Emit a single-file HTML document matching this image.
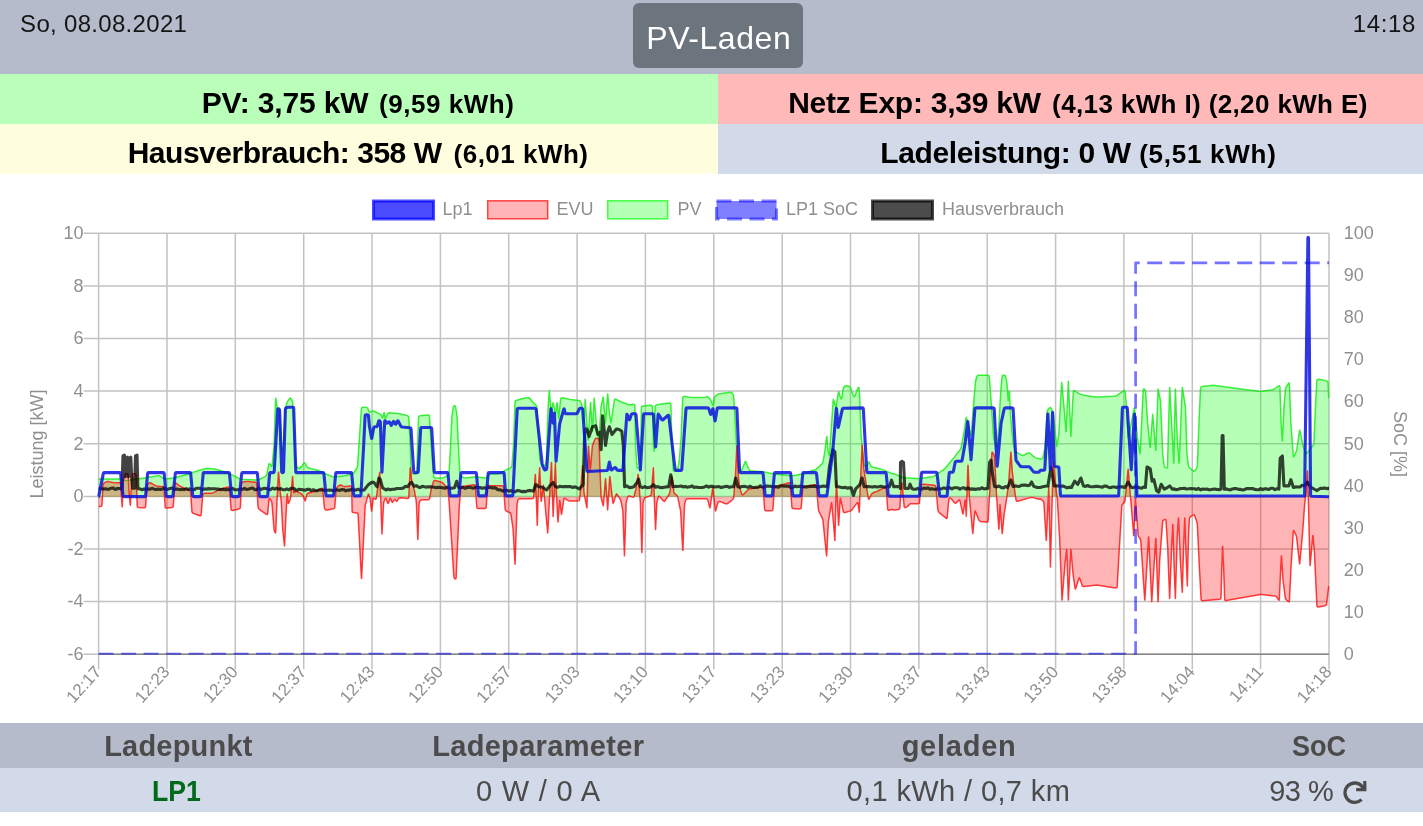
<!DOCTYPE html>
<html lang="de"><head><meta charset="utf-8"><title>openWB Display</title>
<style>
html,body{margin:0;padding:0;background:#fff;}
body{width:1423px;height:826px;overflow:hidden;position:relative;font-family:"Liberation Sans",Arial,sans-serif;}
.bg{position:absolute;}
.t{position:absolute;white-space:nowrap;line-height:1;}
.chart{position:absolute;left:0;top:174px;}
.ref{position:absolute;left:1343.2px;top:780.8px;}
</style></head><body>
<div class="bg" style="left:0;top:0;width:1423px;height:73.5px;background:#b5bbcb"></div>
<div class="bg" style="left:633px;top:3px;width:170px;height:65px;border-radius:6px;background:#6c757d"></div>
<div class="bg" style="left:0;top:73.5px;width:718px;height:50px;background:#b9ffba"></div>
<div class="bg" style="left:718px;top:73.5px;width:705px;height:50px;background:#ffb9b9"></div>
<div class="bg" style="left:0;top:123.5px;width:718px;height:50.5px;background:#fefedf"></div>
<div class="bg" style="left:718px;top:123.5px;width:705px;height:50.5px;background:#d2d9e8"></div>
<div class="bg" style="left:0;top:723px;width:1423px;height:44.5px;background:#b5bbcb"></div>
<div class="bg" style="left:0;top:767.5px;width:1423px;height:44.5px;background:#d2d9e8"></div>
<svg class="chart" width="1423" height="549" viewBox="0 0 1423 549" font-family="Liberation Sans, Arial, sans-serif" font-size="18" fill="#8f8f8f">
<g stroke="#c2c2c2" stroke-width="1.5">
<line x1="98.6" y1="59.3" x2="98.6" y2="495.2"/>
<line x1="167.0" y1="59.3" x2="167.0" y2="495.2"/>
<line x1="235.3" y1="59.3" x2="235.3" y2="495.2"/>
<line x1="303.7" y1="59.3" x2="303.7" y2="495.2"/>
<line x1="372.0" y1="59.3" x2="372.0" y2="495.2"/>
<line x1="440.4" y1="59.3" x2="440.4" y2="495.2"/>
<line x1="508.7" y1="59.3" x2="508.7" y2="495.2"/>
<line x1="577.1" y1="59.3" x2="577.1" y2="495.2"/>
<line x1="645.4" y1="59.3" x2="645.4" y2="495.2"/>
<line x1="713.8" y1="59.3" x2="713.8" y2="495.2"/>
<line x1="782.2" y1="59.3" x2="782.2" y2="495.2"/>
<line x1="850.5" y1="59.3" x2="850.5" y2="495.2"/>
<line x1="918.9" y1="59.3" x2="918.9" y2="495.2"/>
<line x1="987.2" y1="59.3" x2="987.2" y2="495.2"/>
<line x1="1055.6" y1="59.3" x2="1055.6" y2="495.2"/>
<line x1="1123.9" y1="59.3" x2="1123.9" y2="495.2"/>
<line x1="1192.3" y1="59.3" x2="1192.3" y2="495.2"/>
<line x1="1260.6" y1="59.3" x2="1260.6" y2="495.2"/>
<line x1="1329.0" y1="59.3" x2="1329.0" y2="495.2"/>
<line x1="83.6" y1="59.3" x2="1329.0" y2="59.3"/>
<line x1="83.6" y1="111.9" x2="1329.0" y2="111.9"/>
<line x1="83.6" y1="164.5" x2="1329.0" y2="164.5"/>
<line x1="83.6" y1="217.1" x2="1329.0" y2="217.1"/>
<line x1="83.6" y1="269.8" x2="1329.0" y2="269.8"/>
<line x1="83.6" y1="322.4" x2="1329.0" y2="322.4"/>
<line x1="83.6" y1="375.0" x2="1329.0" y2="375.0"/>
<line x1="83.6" y1="427.6" x2="1329.0" y2="427.6"/>
<line x1="83.6" y1="480.2" x2="1329.0" y2="480.2"/>
</g>
<line x1="98.6" y1="480.2" x2="1329.0" y2="480.2" stroke="#858585" stroke-width="1.6"/>
<g class="legend" font-size="18">
<rect x="373.5" y="27" width="60" height="18" fill="rgba(0,0,255,0.7)" stroke="rgba(0,0,255,0.7)" stroke-width="3"/>
<text x="442.5" y="41">Lp1</text>
<rect x="487.7" y="26.8" width="60" height="18" fill="rgba(255,10,13,0.3)" stroke="rgba(255,0,0,0.7)" stroke-width="1.5"/>
<text x="556.5" y="41">EVU</text>
<rect x="607.7" y="26.8" width="60" height="18" fill="rgba(10,255,13,0.3)" stroke="rgba(0,255,0,0.7)" stroke-width="1.5"/>
<text x="677.5" y="41">PV</text>
<rect x="716.5" y="27" width="60" height="18" fill="rgba(0,0,255,0.5)" stroke="rgba(0,0,255,0.5)" stroke-width="3" stroke-dasharray="15 7.5"/>
<text x="786" y="41">LP1 SoC</text>
<rect x="872.5" y="27" width="60" height="18" fill="rgba(0,0,0,0.7)" stroke="rgba(0,0,0,0.7)" stroke-width="3"/>
<text x="942" y="41">Hausverbrauch</text>
</g>
<g class="ylab">
<text x="83.5" y="65.1" text-anchor="end">10</text><text x="83.5" y="117.7" text-anchor="end">8</text><text x="83.5" y="170.3" text-anchor="end">6</text><text x="83.5" y="222.9" text-anchor="end">4</text><text x="83.5" y="275.5" text-anchor="end">2</text><text x="83.5" y="328.1" text-anchor="end">0</text><text x="83.5" y="380.7" text-anchor="end">-2</text><text x="83.5" y="433.3" text-anchor="end">-4</text><text x="83.5" y="486.0" text-anchor="end">-6</text><text x="1343.8" y="65.1" text-anchor="start">100</text><text x="1343.8" y="107.1" text-anchor="start">90</text><text x="1343.8" y="149.2" text-anchor="start">80</text><text x="1343.8" y="191.3" text-anchor="start">70</text><text x="1343.8" y="233.4" text-anchor="start">60</text><text x="1343.8" y="275.5" text-anchor="start">50</text><text x="1343.8" y="317.6" text-anchor="start">40</text><text x="1343.8" y="359.7" text-anchor="start">30</text><text x="1343.8" y="401.8" text-anchor="start">20</text><text x="1343.8" y="443.9" text-anchor="start">10</text><text x="1343.8" y="486.0" text-anchor="start">0</text>
</g>
<g class="xlab" font-size="17">
<text transform="translate(98.9,495.5) rotate(-48)" text-anchor="end" dominant-baseline="middle">12:17</text><text transform="translate(167.3,495.5) rotate(-48)" text-anchor="end" dominant-baseline="middle">12:23</text><text transform="translate(235.6,495.5) rotate(-48)" text-anchor="end" dominant-baseline="middle">12:30</text><text transform="translate(304.0,495.5) rotate(-48)" text-anchor="end" dominant-baseline="middle">12:37</text><text transform="translate(372.3,495.5) rotate(-48)" text-anchor="end" dominant-baseline="middle">12:43</text><text transform="translate(440.7,495.5) rotate(-48)" text-anchor="end" dominant-baseline="middle">12:50</text><text transform="translate(509.0,495.5) rotate(-48)" text-anchor="end" dominant-baseline="middle">12:57</text><text transform="translate(577.4,495.5) rotate(-48)" text-anchor="end" dominant-baseline="middle">13:03</text><text transform="translate(645.7,495.5) rotate(-48)" text-anchor="end" dominant-baseline="middle">13:10</text><text transform="translate(714.1,495.5) rotate(-48)" text-anchor="end" dominant-baseline="middle">13:17</text><text transform="translate(782.5,495.5) rotate(-48)" text-anchor="end" dominant-baseline="middle">13:23</text><text transform="translate(850.8,495.5) rotate(-48)" text-anchor="end" dominant-baseline="middle">13:30</text><text transform="translate(919.2,495.5) rotate(-48)" text-anchor="end" dominant-baseline="middle">13:37</text><text transform="translate(987.5,495.5) rotate(-48)" text-anchor="end" dominant-baseline="middle">13:43</text><text transform="translate(1055.9,495.5) rotate(-48)" text-anchor="end" dominant-baseline="middle">13:50</text><text transform="translate(1124.2,495.5) rotate(-48)" text-anchor="end" dominant-baseline="middle">13:58</text><text transform="translate(1192.6,495.5) rotate(-48)" text-anchor="end" dominant-baseline="middle">14:04</text><text transform="translate(1260.9,495.5) rotate(-48)" text-anchor="end" dominant-baseline="middle">14:11</text><text transform="translate(1329.3,495.5) rotate(-48)" text-anchor="end" dominant-baseline="middle">14:18</text>
</g>
<text transform="translate(43,270) rotate(-90)" text-anchor="middle">Leistung [kW]</text>
<text transform="translate(1394,270) rotate(90)" text-anchor="middle">SoC [%]</text>
<clipPath id="ca"><rect x="97.1" y="57.8" width="1233.4" height="422.7"/></clipPath>
<g fill="none" stroke-linejoin="round" stroke-linecap="butt" clip-path="url(#ca)">
<path d="M98.6,305.1 L98.7,305.1 L99.1,305.1 L100.3,305.1 L121.1,305.1 L122.5,305.3 L123.7,305.8 L123.9,306.0 L125.0,306.4 L126.4,306.4 L142.9,304.3 L144.5,304.0 L146.0,303.8 L158.1,301.7 L159.6,301.8 L160.9,302.5 L162.9,304.1 L164.2,304.8 L165.7,304.9 L171.2,304.2 L172.8,304.0 L174.3,303.7 L184.3,301.2 L185.9,300.7 L187.4,300.3 L197.4,296.9 L198.9,296.4 L200.5,296.0 L206.1,294.6 L207.7,294.4 L209.2,294.4 L214.8,295.1 L216.3,295.4 L217.9,295.8 L227.9,299.2 L229.4,299.7 L230.9,300.4 L238.9,304.4 L240.4,305.0 L241.9,305.2 L256.2,306.1 L257.7,306.0 L259.2,305.5 L265.0,302.6 L266.2,301.6 L266.8,300.3 L268.8,290.4 L269.2,289.5 L270.0,290.1 L271.0,291.8 L271.7,292.4 L272.1,291.6 L273.9,273.0 L274.1,271.4 L274.1,269.8 L275.6,225.0 L275.7,224.2 L275.9,225.0 L277.1,232.7 L277.5,234.1 L278.3,234.8 L278.6,234.9 L279.3,235.7 L279.6,237.0 L281.6,276.3 L281.8,277.1 L282.1,276.3 L283.1,272.9 L283.4,271.3 L283.5,269.8 L285.3,235.9 L285.5,234.3 L285.8,232.8 L286.8,229.3 L287.3,227.9 L288.1,226.5 L289.5,224.7 L290.4,224.1 L291.2,224.9 L291.9,226.4 L292.5,227.8 L292.7,229.4 L294.7,269.8 L294.8,271.4 L294.9,273.0 L295.8,290.5 L296.2,291.9 L297.1,293.0 L298.8,294.3 L299.7,294.7 L300.2,293.9 L300.2,293.5 L300.4,292.7 L300.6,293.0 L300.6,293.3 L301.0,293.6 L301.6,292.8 L302.4,291.3 L303.1,290.1 L303.9,289.2 L304.0,289.0 L304.8,288.9 L305.5,289.8 L306.3,291.7 L307.1,292.9 L308.2,293.6 L308.4,293.7 L309.7,294.2 L311.2,294.6 L316.8,296.0 L318.3,296.5 L319.8,297.1 L323.4,299.0 L324.9,299.6 L326.4,300.2 L332.1,302.4 L333.6,302.8 L335.2,302.8 L342.9,302.0 L344.5,301.8 L346.0,301.5 L351.6,300.1 L353.0,299.4 L354.1,298.4 L356.7,294.5 L357.3,293.1 L357.6,291.5 L361.4,234.8 L361.8,233.6 L363.1,233.2 L365.7,233.2 L367.1,233.6 L367.9,234.7 L368.9,237.2 L369.7,238.1 L370.9,237.8 L371.5,237.4 L372.8,236.9 L374.2,237.2 L375.7,238.0 L377.1,238.7 L378.6,239.4 L380.1,240.1 L381.3,241.1 L381.9,242.4 L382.2,243.2 L382.6,244.0 L382.9,243.2 L383.8,239.2 L384.1,238.4 L384.3,239.2 L385.0,243.6 L385.3,244.5 L385.8,243.7 L387.4,240.1 L388.3,239.1 L389.6,238.8 L397.3,239.6 L398.9,239.8 L400.5,240.1 L407.2,241.6 L408.4,242.3 L408.8,243.5 L410.2,269.8 L410.3,271.4 L410.3,273.0 L411.1,298.1 L411.5,299.3 L412.7,299.7 L415.2,299.7 L416.4,299.3 L416.8,298.1 L417.6,273.0 L417.7,271.4 L417.7,269.8 L418.5,243.5 L418.9,242.3 L420.1,241.8 L427.8,241.0 L429.1,241.3 L429.5,242.5 L431.1,269.8 L431.2,271.4 L431.3,273.0 L433.7,302.4 L434.2,303.6 L435.4,304.0 L440.9,304.0 L442.5,303.9 L444.0,303.4 L445.8,302.5 L447.1,301.8 L448.1,300.9 L448.3,300.7 L448.9,299.5 L449.1,298.1 L450.5,273.0 L450.6,271.4 L450.6,269.8 L451.8,244.6 L451.9,243.0 L452.1,241.5 L453.2,234.2 L453.5,232.8 L453.9,232.0 L454.0,231.9 L454.5,231.6 L455.0,231.9 L455.1,232.0 L455.5,232.8 L455.8,234.2 L456.9,241.5 L457.1,243.0 L457.2,244.6 L458.3,269.8 L458.4,271.4 L458.5,273.0 L459.9,300.3 L460.3,301.6 L461.4,302.6 L462.9,303.3 L464.3,303.8 L465.9,303.9 L473.6,303.1 L475.2,303.0 L476.8,303.1 L484.5,303.9 L485.9,303.7 L487.1,302.8 L488.9,300.9 L490.1,300.0 L491.6,299.7 L497.1,299.7 L498.7,299.5 L500.1,299.0 L503.8,297.1 L505.3,296.4 L506.7,295.7 L510.4,293.9 L511.5,292.9 L511.9,291.6 L513.4,273.0 L513.5,271.4 L513.6,269.8 L515.0,228.3 L515.4,227.0 L516.6,226.3 L521.1,225.0 L522.7,224.6 L524.3,224.3 L527.6,223.7 L529.1,223.8 L530.2,224.7 L531.5,226.5 L532.5,227.7 L533.6,228.9 L535.7,231.0 L536.6,232.3 L536.9,233.7 L538.3,258.9 L538.4,260.5 L538.5,262.1 L539.8,285.0 L540.1,286.5 L540.8,288.0 L542.5,290.7 L543.5,291.5 L544.6,291.1 L544.9,290.9 L545.9,289.7 L546.3,288.3 L547.2,262.1 L547.3,260.5 L547.3,258.9 L548.1,233.7 L548.2,232.1 L548.3,230.5 L549.2,217.4 L549.3,216.6 L549.4,217.4 L550.9,237.1 L551.1,237.9 L551.3,237.1 L552.9,229.4 L553.2,228.6 L553.4,229.4 L555.1,239.3 L555.3,240.1 L555.6,239.3 L556.9,229.4 L557.1,228.6 L557.2,229.4 L558.5,243.6 L558.6,244.4 L558.8,243.6 L560.6,225.0 L561.2,223.9 L562.4,223.8 L569.0,225.3 L570.6,225.6 L572.2,225.8 L578.8,226.5 L580.1,227.0 L580.9,228.2 L582.2,232.8 L582.5,234.3 L582.8,235.9 L584.0,248.0 L584.1,248.8 L584.2,248.0 L585.1,226.1 L585.2,225.3 L585.3,226.1 L586.8,248.0 L586.9,249.6 L587.0,251.2 L587.9,265.4 L588.0,266.2 L588.1,265.4 L590.5,229.4 L590.6,228.6 L590.7,229.4 L592.3,256.7 L592.4,257.5 L592.5,256.7 L594.1,225.0 L594.2,224.2 L594.3,225.0 L596.6,252.3 L596.8,253.9 L597.0,255.5 L598.7,265.4 L598.9,266.2 L599.0,265.4 L601.0,233.7 L601.2,232.2 L601.5,230.6 L602.9,223.9 L603.2,223.1 L603.4,223.9 L605.3,248.0 L605.5,248.8 L605.6,248.0 L607.5,220.7 L607.7,219.9 L607.8,220.7 L609.2,237.1 L609.4,238.7 L609.6,240.3 L610.7,248.0 L610.9,248.8 L611.1,248.0 L614.4,226.1 L614.9,225.1 L616.0,225.3 L619.3,227.0 L620.7,227.7 L622.2,228.3 L627.9,230.5 L629.5,230.8 L631.0,230.7 L633.3,230.3 L634.5,230.4 L634.9,231.6 L635.5,269.8 L635.6,271.4 L635.6,273.0 L637.0,292.6 L637.4,293.8 L638.5,294.2 L638.9,294.2 L640.0,293.8 L640.4,292.6 L641.4,233.7 L641.8,232.5 L643.0,232.0 L650.7,231.2 L651.9,231.5 L652.4,232.7 L653.4,269.8 L653.4,271.4 L653.6,272.9 L654.1,276.3 L654.2,277.1 L654.3,276.3 L655.1,232.7 L655.5,231.4 L656.7,230.8 L669.2,229.1 L670.4,229.3 L670.9,230.5 L671.9,269.8 L671.9,271.4 L672.0,273.0 L673.3,295.9 L673.8,296.9 L674.8,296.7 L676.0,296.1 L677.1,295.1 L677.8,293.8 L678.7,290.3 L679.0,288.8 L679.2,287.2 L681.2,262.1 L681.3,260.5 L681.3,258.9 L682.7,223.9 L683.2,222.8 L684.3,222.4 L684.6,222.5 L686.1,222.6 L687.6,222.9 L688.4,223.1 L690.0,223.3 L691.6,223.4 L703.7,223.4 L705.1,223.3 L706.2,222.9 L706.4,222.8 L707.5,222.7 L708.6,223.5 L709.6,224.5 L710.5,225.7 L711.2,227.1 L712.4,230.6 L712.8,231.4 L713.2,230.6 L714.1,225.0 L714.6,223.5 L715.4,222.2 L716.2,221.4 L717.4,220.4 L718.8,219.9 L729.8,218.2 L731.2,218.4 L732.3,219.3 L732.7,219.9 L733.4,221.3 L733.7,222.8 L735.2,248.0 L735.3,249.6 L735.4,251.2 L736.8,276.3 L736.9,277.9 L737.1,279.5 L738.8,291.6 L739.1,293.1 L739.7,294.6 L740.5,296.1 L741.2,296.8 L741.8,296.0 L742.8,293.5 L743.4,292.1 L744.0,290.6 L745.0,288.1 L745.5,287.4 L746.1,288.1 L747.2,291.6 L747.8,293.1 L748.5,294.5 L749.1,295.7 L750.1,296.7 L751.5,297.1 L760.3,297.4 L761.9,297.6 L763.5,297.8 L771.2,299.4 L772.8,299.6 L774.4,299.9 L790.8,301.7 L792.4,301.7 L794.0,301.5 L801.7,300.0 L803.3,299.6 L804.8,299.2 L814.8,295.8 L816.3,295.2 L817.5,294.2 L821.8,289.9 L822.7,288.7 L823.2,287.2 L824.8,277.3 L825.1,275.7 L825.3,274.1 L826.6,263.1 L826.8,262.4 L826.9,263.2 L828.0,276.3 L828.2,277.9 L828.6,279.4 L829.0,280.7 L829.3,281.5 L829.5,280.7 L831.5,251.2 L831.6,249.6 L831.7,248.0 L833.2,226.1 L833.4,225.3 L833.8,226.1 L834.4,228.4 L834.9,230.0 L835.3,231.5 L835.6,232.8 L835.9,233.5 L836.2,232.7 L837.0,227.2 L837.3,225.6 L837.5,224.0 L838.3,218.5 L838.6,217.7 L839.0,218.4 L839.9,221.9 L840.3,223.3 L840.8,224.4 L840.9,224.6 L841.4,225.0 L841.7,224.0 L842.9,216.3 L843.3,214.7 L843.8,213.3 L844.0,212.9 L844.9,211.9 L846.3,211.8 L848.6,212.2 L849.9,212.8 L850.6,214.1 L851.8,217.6 L852.4,219.1 L853.0,220.5 L853.8,222.0 L854.4,222.7 L855.0,221.9 L856.2,218.4 L856.7,216.9 L857.4,215.5 L858.1,214.0 L858.7,213.3 L859.0,214.1 L859.3,217.5 L859.5,219.1 L859.6,220.7 L861.0,258.9 L861.1,260.5 L861.2,262.1 L864.1,290.5 L864.5,291.8 L865.5,292.5 L865.7,292.7 L866.7,292.6 L867.3,291.6 L868.2,288.6 L868.7,287.8 L869.3,288.5 L870.2,290.6 L870.9,291.8 L871.8,292.5 L872.0,292.7 L873.1,293.1 L874.6,293.5 L880.2,294.9 L881.7,295.4 L883.2,295.9 L891.1,299.1 L892.4,299.5 L893.4,299.7 L893.6,299.7 L894.5,299.9 L895.8,300.4 L901.6,303.0 L903.1,303.5 L904.7,303.8 L916.7,304.6 L918.3,304.7 L919.9,304.5 L932.0,302.8 L933.5,302.4 L934.9,301.6 L943.2,295.9 L944.4,294.9 L945.5,293.7 L950.0,288.5 L951.0,287.3 L952.0,286.1 L954.4,283.1 L955.3,281.9 L956.3,280.6 L957.7,278.8 L958.6,277.6 L959.6,276.5 L959.8,276.3 L960.6,275.2 L961.1,273.8 L962.2,268.2 L962.5,266.6 L962.8,265.0 L963.8,259.5 L964.1,257.9 L964.3,256.3 L966.0,244.2 L966.3,243.4 L966.6,244.2 L967.0,245.4 L967.3,247.0 L967.7,248.6 L968.0,249.8 L968.4,251.4 L968.8,252.9 L970.7,260.7 L971.0,261.5 L971.2,260.7 L972.7,242.1 L972.8,240.5 L972.9,238.9 L973.7,229.0 L973.9,227.4 L974.0,225.8 L975.3,209.4 L975.5,207.8 L975.8,206.2 L976.7,202.8 L977.4,201.6 L978.7,201.3 L987.5,201.3 L988.8,201.6 L989.3,202.8 L990.1,212.7 L990.2,214.3 L990.3,215.9 L991.2,228.0 L991.3,229.6 L991.4,231.2 L993.4,260.7 L993.5,262.2 L993.8,263.8 L995.4,271.6 L995.8,272.8 L996.4,273.1 L996.5,273.1 L997.0,272.7 L997.3,271.6 L998.8,253.0 L998.9,251.4 L999.0,249.8 L1000.6,220.3 L1000.7,218.7 L1000.8,217.1 L1002.1,202.8 L1002.5,201.6 L1003.7,201.3 L1004.0,201.3 L1005.2,201.6 L1005.7,202.8 L1006.7,208.4 L1007.0,210.0 L1007.1,211.6 L1008.2,225.8 L1008.3,226.6 L1008.5,225.8 L1009.2,218.1 L1009.4,217.3 L1009.5,218.1 L1010.4,238.9 L1010.5,240.5 L1010.6,242.1 L1012.9,267.2 L1013.2,268.8 L1013.5,270.3 L1014.9,276.0 L1015.5,277.3 L1016.7,278.3 L1021.5,281.1 L1022.9,281.4 L1024.2,281.0 L1024.8,280.6 L1026.2,279.8 L1027.6,279.2 L1028.0,279.1 L1029.3,279.0 L1030.6,279.7 L1031.6,280.7 L1032.8,281.8 L1034.0,282.7 L1034.6,283.2 L1036.0,283.9 L1037.5,284.3 L1040.9,284.9 L1042.2,284.7 L1042.8,283.6 L1044.8,274.7 L1045.1,273.1 L1045.2,271.5 L1047.2,237.7 L1047.6,236.2 L1048.5,235.0 L1049.6,233.9 L1050.6,233.5 L1051.3,234.4 L1052.9,239.0 L1053.3,240.5 L1053.6,242.1 L1056.5,271.6 L1056.7,272.4 L1056.9,271.6 L1058.6,261.7 L1058.8,260.1 L1058.9,258.5 L1061.6,209.4 L1061.7,208.6 L1061.8,209.4 L1064.4,237.9 L1064.5,239.5 L1064.7,241.1 L1066.0,256.8 L1066.1,257.6 L1066.2,256.8 L1068.3,208.1 L1068.3,207.3 L1068.4,208.1 L1070.8,261.5 L1070.9,262.3 L1070.9,261.5 L1073.3,217.5 L1073.7,216.5 L1074.7,216.8 L1079.6,219.8 L1081.0,220.5 L1082.5,220.9 L1095.1,222.9 L1096.7,223.1 L1098.3,223.1 L1113.9,222.3 L1115.5,222.0 L1116.9,221.3 L1123.7,216.8 L1124.7,216.5 L1125.1,217.5 L1126.4,231.6 L1126.5,233.2 L1126.6,234.8 L1128.1,263.1 L1128.2,263.9 L1128.4,263.1 L1131.0,250.5 L1131.3,249.0 L1131.6,247.4 L1134.1,234.8 L1134.4,234.0 L1134.6,234.8 L1137.4,263.1 L1137.6,264.7 L1137.8,266.3 L1139.8,278.8 L1140.1,279.6 L1140.2,278.8 L1143.2,215.9 L1143.5,214.9 L1144.2,215.0 L1144.5,215.2 L1145.2,216.1 L1145.6,217.5 L1147.5,247.4 L1147.7,249.0 L1147.8,250.5 L1150.0,272.5 L1150.2,273.3 L1150.3,272.5 L1152.6,241.1 L1152.7,240.3 L1152.8,241.1 L1155.7,275.7 L1155.8,276.5 L1155.9,275.7 L1158.0,215.9 L1158.1,215.1 L1158.3,215.9 L1160.2,225.4 L1160.5,226.9 L1160.6,228.5 L1162.7,278.8 L1162.8,280.4 L1163.0,282.0 L1164.1,291.4 L1164.6,292.8 L1165.7,293.7 L1166.1,293.9 L1167.1,294.0 L1167.5,293.0 L1169.6,214.4 L1169.7,213.6 L1169.8,214.4 L1171.5,247.4 L1171.6,249.0 L1171.7,250.6 L1173.7,288.3 L1173.8,289.1 L1173.8,288.3 L1175.3,215.9 L1175.4,215.1 L1175.4,215.9 L1177.2,263.1 L1177.3,264.7 L1177.4,266.3 L1179.0,288.3 L1179.1,289.1 L1179.2,288.3 L1182.2,214.4 L1182.3,213.5 L1182.5,214.3 L1185.2,231.6 L1185.4,233.2 L1185.5,234.8 L1186.9,278.8 L1187.0,280.4 L1187.2,282.0 L1188.4,291.4 L1188.8,292.9 L1189.8,294.0 L1193.0,296.7 L1194.1,297.2 L1195.1,296.4 L1196.5,294.4 L1197.2,293.0 L1197.4,291.4 L1198.9,250.6 L1199.0,249.0 L1199.0,247.4 L1200.5,214.4 L1200.9,213.1 L1202.1,212.6 L1211.5,211.4 L1213.1,211.3 L1214.7,211.4 L1233.6,214.1 L1235.2,214.3 L1236.7,214.5 L1258.7,217.3 L1260.3,217.4 L1261.9,217.3 L1271.3,216.1 L1272.9,215.7 L1274.2,215.0 L1278.5,212.1 L1279.5,211.8 L1279.9,212.8 L1281.1,247.4 L1281.1,249.0 L1281.2,250.5 L1282.3,266.2 L1282.4,267.0 L1282.4,266.2 L1283.9,234.8 L1284.0,233.2 L1284.1,231.6 L1285.4,215.9 L1285.7,214.4 L1286.3,213.0 L1288.5,209.4 L1289.1,208.8 L1289.4,209.6 L1290.8,247.4 L1290.9,249.0 L1291.0,250.5 L1293.3,282.0 L1293.5,282.8 L1294.1,282.1 L1295.8,278.7 L1296.4,277.2 L1296.8,275.7 L1299.5,256.8 L1299.7,256.0 L1300.0,256.8 L1302.5,269.4 L1302.9,271.0 L1303.3,272.5 L1305.5,278.9 L1306.1,279.7 L1306.9,279.1 L1309.7,275.4 L1310.7,274.2 L1311.8,273.0 L1312.7,272.1 L1313.6,270.9 L1313.9,269.4 L1315.4,234.8 L1315.4,233.2 L1315.5,231.6 L1316.9,206.5 L1317.4,205.4 L1318.6,205.2 L1323.3,206.1 L1324.8,206.5 L1326.3,206.9 L1326.6,207.0 L1327.7,207.7 L1328.1,209.0 L1328.6,222.2 L1328.7,223.4 L1328.8,223.8 L1329.0,223.8 L1329.0,322.7 L98.6,322.7 Z" fill="rgba(10,255,13,0.3)" stroke="none"/>
<path d="M98.6,305.1 L98.7,305.1 L99.1,305.1 L100.3,305.1 L121.1,305.1 L122.5,305.3 L123.7,305.8 L123.9,306.0 L125.0,306.4 L126.4,306.4 L142.9,304.3 L144.5,304.0 L146.0,303.8 L158.1,301.7 L159.6,301.8 L160.9,302.5 L162.9,304.1 L164.2,304.8 L165.7,304.9 L171.2,304.2 L172.8,304.0 L174.3,303.7 L184.3,301.2 L185.9,300.7 L187.4,300.3 L197.4,296.9 L198.9,296.4 L200.5,296.0 L206.1,294.6 L207.7,294.4 L209.2,294.4 L214.8,295.1 L216.3,295.4 L217.9,295.8 L227.9,299.2 L229.4,299.7 L230.9,300.4 L238.9,304.4 L240.4,305.0 L241.9,305.2 L256.2,306.1 L257.7,306.0 L259.2,305.5 L265.0,302.6 L266.2,301.6 L266.8,300.3 L268.8,290.4 L269.2,289.5 L270.0,290.1 L271.0,291.8 L271.7,292.4 L272.1,291.6 L273.9,273.0 L274.1,271.4 L274.1,269.8 L275.6,225.0 L275.7,224.2 L275.9,225.0 L277.1,232.7 L277.5,234.1 L278.3,234.8 L278.6,234.9 L279.3,235.7 L279.6,237.0 L281.6,276.3 L281.8,277.1 L282.1,276.3 L283.1,272.9 L283.4,271.3 L283.5,269.8 L285.3,235.9 L285.5,234.3 L285.8,232.8 L286.8,229.3 L287.3,227.9 L288.1,226.5 L289.5,224.7 L290.4,224.1 L291.2,224.9 L291.9,226.4 L292.5,227.8 L292.7,229.4 L294.7,269.8 L294.8,271.4 L294.9,273.0 L295.8,290.5 L296.2,291.9 L297.1,293.0 L298.8,294.3 L299.7,294.7 L300.2,293.9 L300.2,293.5 L300.4,292.7 L300.6,293.0 L300.6,293.3 L301.0,293.6 L301.6,292.8 L302.4,291.3 L303.1,290.1 L303.9,289.2 L304.0,289.0 L304.8,288.9 L305.5,289.8 L306.3,291.7 L307.1,292.9 L308.2,293.6 L308.4,293.7 L309.7,294.2 L311.2,294.6 L316.8,296.0 L318.3,296.5 L319.8,297.1 L323.4,299.0 L324.9,299.6 L326.4,300.2 L332.1,302.4 L333.6,302.8 L335.2,302.8 L342.9,302.0 L344.5,301.8 L346.0,301.5 L351.6,300.1 L353.0,299.4 L354.1,298.4 L356.7,294.5 L357.3,293.1 L357.6,291.5 L361.4,234.8 L361.8,233.6 L363.1,233.2 L365.7,233.2 L367.1,233.6 L367.9,234.7 L368.9,237.2 L369.7,238.1 L370.9,237.8 L371.5,237.4 L372.8,236.9 L374.2,237.2 L375.7,238.0 L377.1,238.7 L378.6,239.4 L380.1,240.1 L381.3,241.1 L381.9,242.4 L382.2,243.2 L382.6,244.0 L382.9,243.2 L383.8,239.2 L384.1,238.4 L384.3,239.2 L385.0,243.6 L385.3,244.5 L385.8,243.7 L387.4,240.1 L388.3,239.1 L389.6,238.8 L397.3,239.6 L398.9,239.8 L400.5,240.1 L407.2,241.6 L408.4,242.3 L408.8,243.5 L410.2,269.8 L410.3,271.4 L410.3,273.0 L411.1,298.1 L411.5,299.3 L412.7,299.7 L415.2,299.7 L416.4,299.3 L416.8,298.1 L417.6,273.0 L417.7,271.4 L417.7,269.8 L418.5,243.5 L418.9,242.3 L420.1,241.8 L427.8,241.0 L429.1,241.3 L429.5,242.5 L431.1,269.8 L431.2,271.4 L431.3,273.0 L433.7,302.4 L434.2,303.6 L435.4,304.0 L440.9,304.0 L442.5,303.9 L444.0,303.4 L445.8,302.5 L447.1,301.8 L448.1,300.9 L448.3,300.7 L448.9,299.5 L449.1,298.1 L450.5,273.0 L450.6,271.4 L450.6,269.8 L451.8,244.6 L451.9,243.0 L452.1,241.5 L453.2,234.2 L453.5,232.8 L453.9,232.0 L454.0,231.9 L454.5,231.6 L455.0,231.9 L455.1,232.0 L455.5,232.8 L455.8,234.2 L456.9,241.5 L457.1,243.0 L457.2,244.6 L458.3,269.8 L458.4,271.4 L458.5,273.0 L459.9,300.3 L460.3,301.6 L461.4,302.6 L462.9,303.3 L464.3,303.8 L465.9,303.9 L473.6,303.1 L475.2,303.0 L476.8,303.1 L484.5,303.9 L485.9,303.7 L487.1,302.8 L488.9,300.9 L490.1,300.0 L491.6,299.7 L497.1,299.7 L498.7,299.5 L500.1,299.0 L503.8,297.1 L505.3,296.4 L506.7,295.7 L510.4,293.9 L511.5,292.9 L511.9,291.6 L513.4,273.0 L513.5,271.4 L513.6,269.8 L515.0,228.3 L515.4,227.0 L516.6,226.3 L521.1,225.0 L522.7,224.6 L524.3,224.3 L527.6,223.7 L529.1,223.8 L530.2,224.7 L531.5,226.5 L532.5,227.7 L533.6,228.9 L535.7,231.0 L536.6,232.3 L536.9,233.7 L538.3,258.9 L538.4,260.5 L538.5,262.1 L539.8,285.0 L540.1,286.5 L540.8,288.0 L542.5,290.7 L543.5,291.5 L544.6,291.1 L544.9,290.9 L545.9,289.7 L546.3,288.3 L547.2,262.1 L547.3,260.5 L547.3,258.9 L548.1,233.7 L548.2,232.1 L548.3,230.5 L549.2,217.4 L549.3,216.6 L549.4,217.4 L550.9,237.1 L551.1,237.9 L551.3,237.1 L552.9,229.4 L553.2,228.6 L553.4,229.4 L555.1,239.3 L555.3,240.1 L555.6,239.3 L556.9,229.4 L557.1,228.6 L557.2,229.4 L558.5,243.6 L558.6,244.4 L558.8,243.6 L560.6,225.0 L561.2,223.9 L562.4,223.8 L569.0,225.3 L570.6,225.6 L572.2,225.8 L578.8,226.5 L580.1,227.0 L580.9,228.2 L582.2,232.8 L582.5,234.3 L582.8,235.9 L584.0,248.0 L584.1,248.8 L584.2,248.0 L585.1,226.1 L585.2,225.3 L585.3,226.1 L586.8,248.0 L586.9,249.6 L587.0,251.2 L587.9,265.4 L588.0,266.2 L588.1,265.4 L590.5,229.4 L590.6,228.6 L590.7,229.4 L592.3,256.7 L592.4,257.5 L592.5,256.7 L594.1,225.0 L594.2,224.2 L594.3,225.0 L596.6,252.3 L596.8,253.9 L597.0,255.5 L598.7,265.4 L598.9,266.2 L599.0,265.4 L601.0,233.7 L601.2,232.2 L601.5,230.6 L602.9,223.9 L603.2,223.1 L603.4,223.9 L605.3,248.0 L605.5,248.8 L605.6,248.0 L607.5,220.7 L607.7,219.9 L607.8,220.7 L609.2,237.1 L609.4,238.7 L609.6,240.3 L610.7,248.0 L610.9,248.8 L611.1,248.0 L614.4,226.1 L614.9,225.1 L616.0,225.3 L619.3,227.0 L620.7,227.7 L622.2,228.3 L627.9,230.5 L629.5,230.8 L631.0,230.7 L633.3,230.3 L634.5,230.4 L634.9,231.6 L635.5,269.8 L635.6,271.4 L635.6,273.0 L637.0,292.6 L637.4,293.8 L638.5,294.2 L638.9,294.2 L640.0,293.8 L640.4,292.6 L641.4,233.7 L641.8,232.5 L643.0,232.0 L650.7,231.2 L651.9,231.5 L652.4,232.7 L653.4,269.8 L653.4,271.4 L653.6,272.9 L654.1,276.3 L654.2,277.1 L654.3,276.3 L655.1,232.7 L655.5,231.4 L656.7,230.8 L669.2,229.1 L670.4,229.3 L670.9,230.5 L671.9,269.8 L671.9,271.4 L672.0,273.0 L673.3,295.9 L673.8,296.9 L674.8,296.7 L676.0,296.1 L677.1,295.1 L677.8,293.8 L678.7,290.3 L679.0,288.8 L679.2,287.2 L681.2,262.1 L681.3,260.5 L681.3,258.9 L682.7,223.9 L683.2,222.8 L684.3,222.4 L684.6,222.5 L686.1,222.6 L687.6,222.9 L688.4,223.1 L690.0,223.3 L691.6,223.4 L703.7,223.4 L705.1,223.3 L706.2,222.9 L706.4,222.8 L707.5,222.7 L708.6,223.5 L709.6,224.5 L710.5,225.7 L711.2,227.1 L712.4,230.6 L712.8,231.4 L713.2,230.6 L714.1,225.0 L714.6,223.5 L715.4,222.2 L716.2,221.4 L717.4,220.4 L718.8,219.9 L729.8,218.2 L731.2,218.4 L732.3,219.3 L732.7,219.9 L733.4,221.3 L733.7,222.8 L735.2,248.0 L735.3,249.6 L735.4,251.2 L736.8,276.3 L736.9,277.9 L737.1,279.5 L738.8,291.6 L739.1,293.1 L739.7,294.6 L740.5,296.1 L741.2,296.8 L741.8,296.0 L742.8,293.5 L743.4,292.1 L744.0,290.6 L745.0,288.1 L745.5,287.4 L746.1,288.1 L747.2,291.6 L747.8,293.1 L748.5,294.5 L749.1,295.7 L750.1,296.7 L751.5,297.1 L760.3,297.4 L761.9,297.6 L763.5,297.8 L771.2,299.4 L772.8,299.6 L774.4,299.9 L790.8,301.7 L792.4,301.7 L794.0,301.5 L801.7,300.0 L803.3,299.6 L804.8,299.2 L814.8,295.8 L816.3,295.2 L817.5,294.2 L821.8,289.9 L822.7,288.7 L823.2,287.2 L824.8,277.3 L825.1,275.7 L825.3,274.1 L826.6,263.1 L826.8,262.4 L826.9,263.2 L828.0,276.3 L828.2,277.9 L828.6,279.4 L829.0,280.7 L829.3,281.5 L829.5,280.7 L831.5,251.2 L831.6,249.6 L831.7,248.0 L833.2,226.1 L833.4,225.3 L833.8,226.1 L834.4,228.4 L834.9,230.0 L835.3,231.5 L835.6,232.8 L835.9,233.5 L836.2,232.7 L837.0,227.2 L837.3,225.6 L837.5,224.0 L838.3,218.5 L838.6,217.7 L839.0,218.4 L839.9,221.9 L840.3,223.3 L840.8,224.4 L840.9,224.6 L841.4,225.0 L841.7,224.0 L842.9,216.3 L843.3,214.7 L843.8,213.3 L844.0,212.9 L844.9,211.9 L846.3,211.8 L848.6,212.2 L849.9,212.8 L850.6,214.1 L851.8,217.6 L852.4,219.1 L853.0,220.5 L853.8,222.0 L854.4,222.7 L855.0,221.9 L856.2,218.4 L856.7,216.9 L857.4,215.5 L858.1,214.0 L858.7,213.3 L859.0,214.1 L859.3,217.5 L859.5,219.1 L859.6,220.7 L861.0,258.9 L861.1,260.5 L861.2,262.1 L864.1,290.5 L864.5,291.8 L865.5,292.5 L865.7,292.7 L866.7,292.6 L867.3,291.6 L868.2,288.6 L868.7,287.8 L869.3,288.5 L870.2,290.6 L870.9,291.8 L871.8,292.5 L872.0,292.7 L873.1,293.1 L874.6,293.5 L880.2,294.9 L881.7,295.4 L883.2,295.9 L891.1,299.1 L892.4,299.5 L893.4,299.7 L893.6,299.7 L894.5,299.9 L895.8,300.4 L901.6,303.0 L903.1,303.5 L904.7,303.8 L916.7,304.6 L918.3,304.7 L919.9,304.5 L932.0,302.8 L933.5,302.4 L934.9,301.6 L943.2,295.9 L944.4,294.9 L945.5,293.7 L950.0,288.5 L951.0,287.3 L952.0,286.1 L954.4,283.1 L955.3,281.9 L956.3,280.6 L957.7,278.8 L958.6,277.6 L959.6,276.5 L959.8,276.3 L960.6,275.2 L961.1,273.8 L962.2,268.2 L962.5,266.6 L962.8,265.0 L963.8,259.5 L964.1,257.9 L964.3,256.3 L966.0,244.2 L966.3,243.4 L966.6,244.2 L967.0,245.4 L967.3,247.0 L967.7,248.6 L968.0,249.8 L968.4,251.4 L968.8,252.9 L970.7,260.7 L971.0,261.5 L971.2,260.7 L972.7,242.1 L972.8,240.5 L972.9,238.9 L973.7,229.0 L973.9,227.4 L974.0,225.8 L975.3,209.4 L975.5,207.8 L975.8,206.2 L976.7,202.8 L977.4,201.6 L978.7,201.3 L987.5,201.3 L988.8,201.6 L989.3,202.8 L990.1,212.7 L990.2,214.3 L990.3,215.9 L991.2,228.0 L991.3,229.6 L991.4,231.2 L993.4,260.7 L993.5,262.2 L993.8,263.8 L995.4,271.6 L995.8,272.8 L996.4,273.1 L996.5,273.1 L997.0,272.7 L997.3,271.6 L998.8,253.0 L998.9,251.4 L999.0,249.8 L1000.6,220.3 L1000.7,218.7 L1000.8,217.1 L1002.1,202.8 L1002.5,201.6 L1003.7,201.3 L1004.0,201.3 L1005.2,201.6 L1005.7,202.8 L1006.7,208.4 L1007.0,210.0 L1007.1,211.6 L1008.2,225.8 L1008.3,226.6 L1008.5,225.8 L1009.2,218.1 L1009.4,217.3 L1009.5,218.1 L1010.4,238.9 L1010.5,240.5 L1010.6,242.1 L1012.9,267.2 L1013.2,268.8 L1013.5,270.3 L1014.9,276.0 L1015.5,277.3 L1016.7,278.3 L1021.5,281.1 L1022.9,281.4 L1024.2,281.0 L1024.8,280.6 L1026.2,279.8 L1027.6,279.2 L1028.0,279.1 L1029.3,279.0 L1030.6,279.7 L1031.6,280.7 L1032.8,281.8 L1034.0,282.7 L1034.6,283.2 L1036.0,283.9 L1037.5,284.3 L1040.9,284.9 L1042.2,284.7 L1042.8,283.6 L1044.8,274.7 L1045.1,273.1 L1045.2,271.5 L1047.2,237.7 L1047.6,236.2 L1048.5,235.0 L1049.6,233.9 L1050.6,233.5 L1051.3,234.4 L1052.9,239.0 L1053.3,240.5 L1053.6,242.1 L1056.5,271.6 L1056.7,272.4 L1056.9,271.6 L1058.6,261.7 L1058.8,260.1 L1058.9,258.5 L1061.6,209.4 L1061.7,208.6 L1061.8,209.4 L1064.4,237.9 L1064.5,239.5 L1064.7,241.1 L1066.0,256.8 L1066.1,257.6 L1066.2,256.8 L1068.3,208.1 L1068.3,207.3 L1068.4,208.1 L1070.8,261.5 L1070.9,262.3 L1070.9,261.5 L1073.3,217.5 L1073.7,216.5 L1074.7,216.8 L1079.6,219.8 L1081.0,220.5 L1082.5,220.9 L1095.1,222.9 L1096.7,223.1 L1098.3,223.1 L1113.9,222.3 L1115.5,222.0 L1116.9,221.3 L1123.7,216.8 L1124.7,216.5 L1125.1,217.5 L1126.4,231.6 L1126.5,233.2 L1126.6,234.8 L1128.1,263.1 L1128.2,263.9 L1128.4,263.1 L1131.0,250.5 L1131.3,249.0 L1131.6,247.4 L1134.1,234.8 L1134.4,234.0 L1134.6,234.8 L1137.4,263.1 L1137.6,264.7 L1137.8,266.3 L1139.8,278.8 L1140.1,279.6 L1140.2,278.8 L1143.2,215.9 L1143.5,214.9 L1144.2,215.0 L1144.5,215.2 L1145.2,216.1 L1145.6,217.5 L1147.5,247.4 L1147.7,249.0 L1147.8,250.5 L1150.0,272.5 L1150.2,273.3 L1150.3,272.5 L1152.6,241.1 L1152.7,240.3 L1152.8,241.1 L1155.7,275.7 L1155.8,276.5 L1155.9,275.7 L1158.0,215.9 L1158.1,215.1 L1158.3,215.9 L1160.2,225.4 L1160.5,226.9 L1160.6,228.5 L1162.7,278.8 L1162.8,280.4 L1163.0,282.0 L1164.1,291.4 L1164.6,292.8 L1165.7,293.7 L1166.1,293.9 L1167.1,294.0 L1167.5,293.0 L1169.6,214.4 L1169.7,213.6 L1169.8,214.4 L1171.5,247.4 L1171.6,249.0 L1171.7,250.6 L1173.7,288.3 L1173.8,289.1 L1173.8,288.3 L1175.3,215.9 L1175.4,215.1 L1175.4,215.9 L1177.2,263.1 L1177.3,264.7 L1177.4,266.3 L1179.0,288.3 L1179.1,289.1 L1179.2,288.3 L1182.2,214.4 L1182.3,213.5 L1182.5,214.3 L1185.2,231.6 L1185.4,233.2 L1185.5,234.8 L1186.9,278.8 L1187.0,280.4 L1187.2,282.0 L1188.4,291.4 L1188.8,292.9 L1189.8,294.0 L1193.0,296.7 L1194.1,297.2 L1195.1,296.4 L1196.5,294.4 L1197.2,293.0 L1197.4,291.4 L1198.9,250.6 L1199.0,249.0 L1199.0,247.4 L1200.5,214.4 L1200.9,213.1 L1202.1,212.6 L1211.5,211.4 L1213.1,211.3 L1214.7,211.4 L1233.6,214.1 L1235.2,214.3 L1236.7,214.5 L1258.7,217.3 L1260.3,217.4 L1261.9,217.3 L1271.3,216.1 L1272.9,215.7 L1274.2,215.0 L1278.5,212.1 L1279.5,211.8 L1279.9,212.8 L1281.1,247.4 L1281.1,249.0 L1281.2,250.5 L1282.3,266.2 L1282.4,267.0 L1282.4,266.2 L1283.9,234.8 L1284.0,233.2 L1284.1,231.6 L1285.4,215.9 L1285.7,214.4 L1286.3,213.0 L1288.5,209.4 L1289.1,208.8 L1289.4,209.6 L1290.8,247.4 L1290.9,249.0 L1291.0,250.5 L1293.3,282.0 L1293.5,282.8 L1294.1,282.1 L1295.8,278.7 L1296.4,277.2 L1296.8,275.7 L1299.5,256.8 L1299.7,256.0 L1300.0,256.8 L1302.5,269.4 L1302.9,271.0 L1303.3,272.5 L1305.5,278.9 L1306.1,279.7 L1306.9,279.1 L1309.7,275.4 L1310.7,274.2 L1311.8,273.0 L1312.7,272.1 L1313.6,270.9 L1313.9,269.4 L1315.4,234.8 L1315.4,233.2 L1315.5,231.6 L1316.9,206.5 L1317.4,205.4 L1318.6,205.2 L1323.3,206.1 L1324.8,206.5 L1326.3,206.9 L1326.6,207.0 L1327.7,207.7 L1328.1,209.0 L1328.6,222.2 L1328.7,223.4 L1328.8,223.8 L1329.0,223.8" stroke="rgba(0,235,0,0.75)" stroke-width="1.5"/>
<path d="M98.6,332.4 L98.7,332.4 L99.1,332.4 L100.1,332.4 L100.6,332.4 L101.6,332.0 L102.0,331.0 L103.0,310.9 L103.4,309.7 L104.3,308.9 L106.2,307.9 L107.5,307.5 L108.8,307.6 L110.4,308.1 L111.8,308.3 L113.2,308.5 L116.9,308.7 L118.2,308.8 L119.3,308.6 L119.5,308.6 L120.3,308.8 L120.6,309.8 L122.1,332.1 L122.2,332.8 L122.3,332.1 L123.1,309.8 L123.2,308.4 L123.4,307.0 L124.6,301.1 L125.1,300.0 L126.3,299.7 L126.7,299.7 L127.8,300.0 L128.2,301.1 L129.1,317.9 L129.2,319.3 L129.3,320.7 L130.2,330.5 L130.3,331.2 L130.4,330.5 L131.3,312.0 L131.4,310.6 L131.5,309.2 L132.3,301.1 L132.8,300.0 L133.9,299.7 L134.8,299.7 L135.8,300.0 L136.2,301.1 L137.2,332.1 L137.6,333.1 L138.7,333.5 L144.2,333.8 L145.2,333.5 L145.6,332.5 L147.0,312.0 L147.3,310.7 L148.2,309.7 L148.8,309.3 L149.9,308.8 L151.1,309.1 L154.2,310.9 L155.4,311.5 L156.7,311.9 L160.5,312.5 L161.8,312.6 L162.9,312.6 L163.1,312.5 L163.8,312.7 L164.1,313.7 L165.1,332.7 L165.5,333.7 L166.6,334.0 L171.8,333.6 L172.9,333.1 L173.3,332.1 L174.9,309.8 L175.2,309.0 L176.1,309.2 L178.2,310.8 L179.4,311.6 L180.6,312.3 L184.6,314.3 L185.9,314.9 L187.1,315.5 L189.4,316.5 L190.4,317.3 L190.7,318.5 L191.9,337.5 L192.3,338.7 L193.3,339.4 L199.8,341.7 L200.8,341.7 L201.2,340.8 L202.7,320.7 L203.2,319.6 L204.3,319.3 L210.6,319.3 L212.0,319.1 L213.3,318.7 L219.5,315.6 L220.7,315.0 L222.1,314.6 L228.1,313.1 L229.1,313.2 L229.5,314.2 L231.1,335.3 L231.5,336.3 L232.5,336.4 L239.0,334.9 L240.0,334.3 L240.4,333.1 L241.4,309.8 L241.7,308.7 L242.8,308.1 L245.5,307.6 L246.9,307.4 L248.3,307.5 L255.3,308.2 L256.3,308.7 L256.7,309.8 L258.1,333.1 L258.5,334.4 L259.3,335.3 L266.4,340.3 L267.3,340.5 L267.7,339.7 L269.0,325.0 L269.2,324.3 L269.8,324.8 L271.2,326.8 L271.8,328.1 L272.0,329.4 L274.0,354.9 L274.2,356.3 L274.7,357.6 L275.0,358.3 L275.5,358.9 L275.7,358.2 L276.9,329.4 L276.9,328.0 L277.0,326.6 L278.4,298.9 L278.5,298.2 L278.6,298.9 L279.9,313.5 L280.0,314.9 L280.1,316.3 L281.1,326.6 L281.3,328.0 L281.4,329.4 L282.7,354.9 L282.8,356.3 L283.0,357.7 L284.4,371.3 L284.5,372.0 L284.6,371.3 L285.6,349.0 L285.6,347.6 L285.7,346.2 L287.1,320.7 L287.2,320.0 L287.3,320.7 L288.1,328.8 L288.4,329.5 L288.8,328.9 L289.9,326.0 L290.3,324.7 L290.6,323.3 L292.5,303.3 L292.6,302.6 L292.7,303.3 L293.6,317.9 L293.9,318.7 L294.7,318.3 L294.9,318.1 L295.7,317.4 L296.0,317.1 L296.0,317.1 L296.5,317.3 L297.5,317.7 L299.6,318.7 L300.8,319.4 L301.9,320.3 L302.1,320.5 L302.9,321.6 L303.5,322.8 L304.8,326.3 L305.2,326.9 L305.5,326.2 L306.7,320.7 L307.3,319.6 L308.4,319.0 L310.4,318.5 L311.8,318.2 L313.1,317.8 L317.0,316.5 L318.3,316.0 L319.6,315.4 L321.4,314.5 L322.4,314.3 L322.8,315.2 L324.3,333.1 L324.6,334.4 L325.1,335.3 L325.3,335.5 L326.1,336.0 L327.3,336.0 L333.3,334.8 L334.3,334.3 L334.8,333.1 L336.1,315.2 L336.4,314.0 L337.3,312.9 L339.0,311.5 L340.2,311.0 L341.4,311.2 L343.2,312.1 L344.5,312.5 L345.9,312.5 L350.3,311.9 L351.3,312.1 L351.7,313.1 L352.1,337.1 L352.4,338.2 L353.5,338.6 L356.6,338.9 L357.7,339.3 L358.1,340.4 L361.4,403.9 L361.5,404.6 L361.6,403.9 L365.2,332.0 L365.4,330.7 L365.7,329.4 L365.8,329.2 L366.2,328.0 L366.6,326.6 L368.1,320.6 L368.5,320.0 L368.9,320.6 L369.7,323.4 L370.1,324.8 L370.3,326.1 L371.5,336.4 L371.7,337.1 L371.8,336.4 L373.1,325.0 L373.5,324.2 L374.3,324.5 L374.9,325.0 L375.8,325.3 L376.3,324.4 L378.0,312.0 L378.2,310.6 L378.4,309.2 L379.6,298.9 L379.7,298.2 L379.8,298.9 L380.8,326.6 L380.8,328.0 L380.9,329.4 L381.9,359.3 L381.9,360.0 L382.0,359.3 L383.6,329.4 L383.8,328.0 L384.3,326.8 L385.2,324.9 L385.8,324.3 L386.3,325.0 L387.6,328.9 L388.0,329.5 L388.5,328.9 L389.8,325.0 L390.2,324.3 L390.7,324.9 L391.9,327.8 L392.4,328.5 L393.0,327.8 L393.9,326.0 L394.6,325.3 L395.4,325.9 L396.0,326.8 L396.7,327.4 L397.4,326.8 L398.3,324.9 L399.1,324.0 L400.3,323.8 L407.3,324.6 L408.4,324.3 L408.8,323.3 L410.2,294.5 L410.3,293.8 L410.4,294.5 L411.8,307.0 L412.1,308.4 L412.4,309.7 L413.7,313.6 L414.1,314.9 L414.4,316.3 L416.1,326.6 L416.3,328.0 L416.4,329.4 L417.8,364.7 L417.9,365.4 L417.9,364.7 L419.1,329.4 L419.4,328.1 L419.9,327.0 L420.0,326.8 L420.9,326.1 L422.1,325.8 L428.0,325.8 L429.1,325.5 L429.7,324.4 L431.0,316.3 L431.2,314.9 L431.6,313.6 L433.4,307.6 L434.0,306.6 L435.1,306.6 L441.1,308.1 L442.4,308.6 L443.4,309.5 L447.1,313.9 L447.8,315.0 L448.1,316.3 L449.2,329.2 L449.3,330.6 L449.4,332.0 L453.9,402.9 L454.2,404.0 L454.9,404.7 L455.1,404.8 L455.8,404.9 L456.1,403.9 L459.3,332.0 L459.4,330.6 L459.5,329.2 L460.9,314.1 L461.3,313.0 L462.4,312.5 L473.8,310.8 L474.9,311.0 L475.3,312.0 L476.8,333.1 L477.3,334.2 L478.3,334.5 L484.7,334.5 L485.8,334.2 L486.2,333.1 L487.7,312.0 L488.0,311.0 L488.8,311.1 L489.0,311.2 L490.1,311.5 L491.4,311.7 L502.1,311.7 L503.2,312.0 L503.6,313.1 L505.2,335.3 L505.6,336.5 L506.6,337.2 L509.4,338.4 L510.4,339.1 L510.9,340.3 L512.8,352.9 L513.0,354.3 L513.1,355.7 L515.0,389.5 L515.1,390.2 L515.1,389.5 L517.0,332.0 L517.1,330.6 L517.3,329.2 L518.0,326.1 L518.6,325.1 L519.7,324.7 L532.2,324.7 L533.2,324.4 L533.7,323.3 L535.2,301.1 L535.3,300.4 L535.4,301.1 L536.4,326.6 L536.4,328.0 L536.5,329.4 L537.2,350.6 L537.3,351.3 L537.3,350.6 L538.3,316.3 L538.4,314.9 L538.4,313.5 L539.6,294.5 L539.7,293.8 L539.7,294.5 L541.1,326.6 L541.2,327.3 L541.4,326.6 L542.1,320.7 L542.3,319.3 L542.5,317.9 L543.2,312.0 L543.4,311.3 L543.5,312.0 L544.8,326.6 L544.9,328.0 L545.0,329.4 L547.6,358.2 L547.7,358.9 L547.8,358.2 L549.2,329.4 L549.3,328.0 L549.3,326.6 L551.4,289.1 L551.4,288.4 L551.5,289.1 L553.1,341.9 L553.2,342.6 L553.2,341.9 L555.3,290.2 L555.4,289.5 L555.4,290.2 L556.6,322.2 L556.7,323.6 L556.7,325.0 L557.9,347.3 L558.0,348.0 L558.1,347.3 L559.6,327.2 L559.7,326.5 L559.9,327.2 L561.3,339.7 L561.5,340.4 L561.7,339.7 L563.9,325.0 L564.3,324.2 L565.2,324.5 L567.3,326.1 L568.5,326.7 L569.8,326.9 L577.9,326.9 L579.0,326.6 L579.5,325.5 L580.9,312.0 L581.1,310.6 L581.2,309.2 L582.5,292.4 L582.6,291.7 L582.7,292.4 L584.0,317.9 L584.2,319.3 L584.4,320.7 L586.7,333.2 L586.9,333.8 L587.0,333.1 L588.4,272.8 L588.5,272.1 L588.6,272.8 L590.1,296.1 L590.2,296.8 L590.3,296.1 L592.3,272.8 L592.5,271.4 L592.9,270.1 L595.1,265.0 L595.9,264.2 L597.0,264.2 L597.6,264.4 L598.6,265.1 L599.0,266.2 L600.0,296.1 L600.0,297.5 L600.1,298.9 L601.1,322.2 L601.2,323.6 L601.5,325.0 L603.0,331.0 L603.2,331.7 L603.4,331.0 L605.4,305.4 L605.5,304.7 L605.6,305.4 L607.6,335.3 L607.6,336.0 L607.7,335.3 L609.7,303.3 L609.8,302.6 L610.0,303.3 L612.9,328.8 L613.2,329.5 L613.5,328.8 L616.0,320.6 L616.5,319.9 L617.1,320.5 L619.9,324.7 L620.6,325.9 L621.0,327.2 L622.6,335.3 L622.8,336.7 L622.9,338.1 L624.4,381.1 L624.4,381.8 L624.5,381.1 L626.1,329.4 L626.3,328.0 L626.6,326.7 L627.9,322.8 L628.6,321.9 L629.6,322.0 L632.5,323.1 L633.6,323.2 L634.1,322.3 L635.6,316.3 L635.9,314.9 L636.2,313.5 L638.0,301.1 L638.1,300.4 L638.3,301.1 L640.2,326.6 L640.3,328.0 L640.4,329.4 L641.8,377.8 L641.9,378.5 L641.9,377.8 L643.1,329.4 L643.3,328.0 L643.6,326.7 L644.2,325.0 L644.9,323.9 L646.0,323.2 L649.9,321.9 L650.9,321.2 L651.3,320.1 L653.3,294.5 L653.4,293.8 L653.4,294.5 L654.4,326.6 L654.5,328.0 L654.5,329.4 L655.5,354.9 L655.6,355.6 L655.6,354.9 L656.8,329.4 L657.0,328.0 L657.3,326.7 L658.4,322.8 L659.0,322.1 L659.7,322.5 L663.4,326.9 L664.3,327.4 L665.0,326.8 L669.0,320.5 L669.6,319.2 L669.9,317.9 L671.7,303.2 L671.9,302.6 L672.1,303.2 L673.9,317.9 L674.3,319.1 L675.3,320.1 L676.2,320.7 L677.1,321.6 L677.7,322.8 L680.3,335.4 L680.6,336.7 L680.7,338.1 L682.7,375.6 L682.8,376.3 L682.9,375.6 L684.5,331.6 L684.6,330.2 L684.9,328.8 L685.7,326.1 L686.3,325.1 L687.5,324.7 L688.6,324.7 L690.0,324.7 L691.4,324.7 L706.0,324.7 L707.2,325.1 L707.8,326.1 L709.7,333.2 L710.0,333.9 L710.2,333.2 L712.7,314.1 L712.9,313.4 L713.0,314.1 L715.3,336.4 L715.5,337.1 L715.8,336.5 L718.0,328.3 L718.6,327.4 L719.6,327.4 L725.7,329.7 L727.0,329.8 L728.1,329.3 L732.5,325.6 L733.3,324.6 L733.7,323.3 L735.2,305.4 L735.3,304.0 L735.4,302.6 L736.8,272.8 L736.8,272.1 L736.9,272.8 L738.3,300.5 L738.4,301.9 L738.5,303.3 L739.5,312.5 L739.7,313.8 L740.1,315.2 L741.8,320.1 L742.4,320.9 L743.3,320.5 L747.8,315.9 L748.9,315.1 L750.2,314.7 L761.6,313.0 L762.7,313.2 L763.1,314.2 L764.6,335.3 L765.1,336.4 L766.1,336.7 L771.4,336.7 L772.5,336.4 L772.9,335.3 L774.4,314.2 L774.8,313.0 L775.9,312.4 L788.9,308.8 L789.9,308.8 L790.3,309.8 L791.9,333.1 L792.3,334.2 L793.4,334.6 L799.7,334.9 L800.8,334.6 L801.2,333.6 L802.7,314.1 L803.2,313.0 L804.2,312.5 L815.0,310.8 L816.0,311.0 L816.5,312.0 L818.4,335.3 L818.7,336.7 L819.2,338.0 L822.3,344.2 L822.8,345.5 L823.0,346.8 L824.9,365.8 L825.1,367.2 L825.2,368.6 L826.5,381.1 L826.6,381.8 L826.7,381.1 L828.3,349.0 L828.4,347.6 L828.6,346.2 L831.4,329.4 L831.6,328.7 L831.7,329.4 L833.2,346.2 L833.4,347.6 L833.5,349.0 L834.8,365.8 L834.9,366.5 L834.9,365.8 L836.4,307.6 L836.4,306.9 L836.5,307.6 L838.5,350.6 L838.6,351.3 L838.7,350.6 L840.2,325.0 L840.4,324.3 L840.6,325.0 L843.3,337.5 L843.9,338.5 L844.9,338.5 L849.9,337.1 L851.1,336.5 L852.1,335.6 L856.9,329.1 L857.6,328.6 L858.0,329.4 L859.1,337.5 L859.2,338.2 L859.3,337.5 L860.5,305.4 L860.6,304.0 L860.7,302.6 L862.1,271.7 L862.1,271.0 L862.2,271.7 L863.5,291.7 L863.7,293.1 L863.8,294.5 L866.3,311.4 L866.5,312.8 L866.7,314.1 L868.4,324.4 L868.7,325.2 L869.3,324.6 L871.3,320.5 L872.1,319.5 L873.2,318.8 L876.1,317.6 L877.4,317.1 L878.6,316.5 L884.8,313.4 L885.8,313.3 L886.2,314.2 L887.7,335.3 L888.1,336.3 L889.1,336.2 L891.3,335.5 L892.3,335.2 L892.7,335.6 L892.8,335.7 L893.2,336.1 L894.3,336.1 L898.4,335.5 L899.5,334.9 L899.9,333.8 L900.8,318.1 L900.9,316.7 L901.1,315.3 L901.8,309.4 L902.0,308.7 L902.1,309.4 L903.4,324.0 L903.5,325.4 L903.6,326.8 L904.2,332.8 L904.7,333.6 L905.6,333.5 L907.3,332.6 L908.3,331.9 L909.0,331.0 L909.1,330.8 L909.8,330.0 L911.0,329.8 L918.0,329.8 L919.1,329.4 L919.5,328.4 L920.8,312.7 L921.1,311.5 L921.7,310.8 L921.9,310.7 L922.8,310.3 L924.1,310.3 L934.4,311.2 L935.4,311.6 L935.9,312.7 L937.8,334.9 L938.0,336.2 L938.4,337.3 L938.5,337.5 L939.2,338.5 L940.1,339.4 L946.0,344.2 L946.8,344.5 L947.2,343.6 L948.7,326.8 L948.9,325.5 L949.3,324.5 L949.4,324.2 L950.0,323.8 L950.8,324.3 L954.5,328.7 L955.4,329.3 L956.3,328.8 L958.7,326.4 L959.5,326.0 L960.0,326.8 L962.7,339.3 L963.0,340.0 L963.2,339.3 L965.0,326.8 L965.1,326.1 L965.3,326.8 L966.2,341.5 L966.2,342.2 L966.3,341.5 L967.9,292.0 L968.0,291.3 L968.1,292.0 L969.5,324.0 L969.5,325.4 L969.7,326.8 L972.7,358.9 L972.8,359.6 L972.9,358.9 L974.8,337.7 L975.1,337.0 L975.5,337.6 L978.8,345.9 L979.5,346.9 L980.7,347.4 L986.7,348.1 L987.7,347.9 L988.1,346.9 L989.7,318.1 L989.8,316.7 L989.9,315.3 L991.9,278.9 L992.1,278.2 L992.7,278.7 L993.9,280.7 L994.4,281.9 L994.6,283.3 L996.7,324.0 L996.8,325.4 L996.9,326.8 L998.8,354.5 L998.9,355.2 L999.0,354.5 L1000.0,331.2 L1000.0,330.5 L1000.1,331.2 L1002.1,358.9 L1002.2,359.6 L1002.3,358.9 L1004.2,339.9 L1004.4,338.5 L1004.6,337.1 L1006.3,326.8 L1006.5,325.4 L1006.7,324.0 L1008.6,309.4 L1008.7,308.0 L1008.8,306.6 L1010.8,278.9 L1010.9,278.2 L1011.0,278.9 L1012.3,297.9 L1012.5,299.3 L1012.6,300.7 L1015.1,319.7 L1015.3,321.1 L1015.5,322.5 L1016.1,326.2 L1016.6,327.2 L1017.7,327.2 L1030.3,323.6 L1031.6,323.4 L1033.0,323.6 L1037.9,325.0 L1039.0,325.2 L1039.6,325.0 L1039.7,324.9 L1040.2,324.8 L1041.1,325.4 L1042.7,326.7 L1043.5,327.8 L1043.9,329.0 L1046.2,365.6 L1046.3,366.3 L1046.4,365.6 L1048.7,313.3 L1048.8,312.6 L1048.8,313.3 L1050.4,392.3 L1050.4,393.0 L1050.4,392.3 L1053.2,288.1 L1053.2,287.4 L1053.4,288.1 L1055.6,310.5 L1055.7,311.9 L1055.9,313.3 L1057.1,323.1 L1057.3,324.5 L1057.4,325.9 L1059.4,360.9 L1059.5,362.3 L1059.6,363.7 L1062.0,425.4 L1062.0,426.1 L1062.1,425.4 L1065.1,388.8 L1065.2,387.4 L1065.4,386.1 L1066.6,376.2 L1066.7,375.6 L1066.8,376.3 L1068.3,425.4 L1068.3,426.1 L1068.4,425.4 L1070.8,376.3 L1070.9,375.6 L1071.0,376.3 L1072.9,398.6 L1073.1,400.0 L1073.2,401.4 L1075.1,414.4 L1075.3,415.1 L1075.7,414.4 L1078.9,404.5 L1079.3,403.9 L1079.8,404.5 L1082.1,411.3 L1082.7,412.3 L1083.9,412.5 L1095.3,411.2 L1096.7,411.1 L1098.0,411.3 L1115.7,414.0 L1116.8,413.8 L1117.2,412.8 L1119.2,376.3 L1119.3,374.9 L1119.4,373.5 L1121.8,332.2 L1122.1,330.9 L1122.8,329.8 L1124.0,328.6 L1124.8,327.5 L1125.1,326.2 L1128.0,296.0 L1128.1,295.3 L1128.3,296.0 L1130.5,323.1 L1130.7,324.5 L1130.8,325.9 L1133.7,360.9 L1133.8,361.6 L1133.9,360.9 L1135.3,325.9 L1135.4,325.2 L1135.5,325.9 L1138.1,360.9 L1138.4,362.2 L1139.1,363.4 L1139.8,364.3 L1140.5,365.5 L1140.8,366.8 L1144.7,425.4 L1144.8,426.1 L1144.9,425.4 L1148.5,363.7 L1148.6,363.0 L1148.7,363.7 L1151.7,427.0 L1151.7,427.7 L1151.8,427.0 L1155.7,365.2 L1155.8,364.5 L1155.9,365.2 L1158.0,427.0 L1158.0,427.7 L1158.1,427.0 L1159.6,388.8 L1159.6,387.4 L1159.7,386.1 L1162.6,347.9 L1163.0,346.7 L1164.0,345.9 L1164.7,345.6 L1165.6,345.5 L1166.0,346.4 L1167.7,373.5 L1167.8,374.9 L1167.8,376.3 L1169.6,423.8 L1169.7,424.5 L1169.7,423.8 L1171.5,376.3 L1171.6,374.9 L1171.6,373.5 L1172.8,351.1 L1172.8,350.4 L1172.9,351.1 L1174.0,389.2 L1174.1,390.6 L1174.1,392.0 L1175.3,423.8 L1175.3,424.5 L1175.4,423.8 L1177.2,363.7 L1177.2,362.3 L1177.3,360.9 L1178.4,344.8 L1178.5,344.1 L1178.6,344.8 L1180.3,386.0 L1180.4,387.4 L1180.5,388.8 L1182.2,417.5 L1182.3,418.2 L1182.3,417.5 L1183.5,376.3 L1183.5,374.9 L1183.6,373.5 L1184.7,344.8 L1184.8,344.1 L1184.8,344.8 L1186.0,379.8 L1186.1,381.2 L1186.1,382.6 L1187.3,411.2 L1187.3,411.9 L1187.3,411.2 L1188.5,363.7 L1188.6,362.3 L1188.6,360.9 L1189.4,344.8 L1189.8,343.5 L1190.7,342.6 L1193.1,341.0 L1194.1,340.8 L1194.7,341.6 L1196.9,348.3 L1197.3,349.7 L1197.4,351.1 L1199.2,389.2 L1199.3,390.6 L1199.3,392.0 L1201.1,425.4 L1201.5,426.4 L1202.6,426.7 L1219.6,425.3 L1220.6,424.9 L1221.0,423.8 L1221.9,392.0 L1221.9,390.6 L1222.0,389.2 L1222.5,373.1 L1222.6,372.4 L1222.6,373.1 L1223.4,389.2 L1223.5,390.6 L1223.6,392.0 L1224.7,425.4 L1225.1,426.4 L1226.1,426.5 L1259.0,420.7 L1260.3,420.6 L1261.7,420.6 L1274.7,421.9 L1275.9,422.3 L1276.8,423.2 L1278.4,425.6 L1279.0,426.2 L1279.3,425.4 L1280.4,401.4 L1280.5,400.0 L1280.5,398.6 L1281.4,382.6 L1281.4,381.9 L1281.5,382.5 L1282.9,404.9 L1283.0,406.3 L1283.2,407.7 L1285.3,423.8 L1285.7,425.1 L1286.6,426.1 L1288.2,427.5 L1289.0,427.8 L1289.4,427.0 L1291.1,392.0 L1291.2,390.6 L1291.3,389.2 L1293.3,357.4 L1293.5,356.6 L1294.0,357.2 L1295.9,361.0 L1296.4,362.3 L1296.7,363.7 L1299.5,389.2 L1299.7,389.9 L1299.8,389.2 L1302.7,357.4 L1302.8,356.0 L1302.9,354.6 L1304.3,335.3 L1304.4,333.9 L1304.5,332.5 L1305.8,319.6 L1306.0,318.2 L1306.1,316.8 L1307.4,297.6 L1307.5,296.9 L1307.6,297.6 L1308.8,342.0 L1308.8,343.4 L1308.8,344.8 L1310.0,390.8 L1310.1,391.5 L1310.2,390.8 L1312.8,362.1 L1312.9,361.4 L1313.0,362.1 L1314.3,376.6 L1314.5,378.0 L1314.5,379.4 L1315.7,404.9 L1315.7,406.3 L1315.8,407.7 L1316.9,431.7 L1317.3,432.7 L1318.4,432.9 L1325.1,431.7 L1326.1,431.2 L1326.6,430.1 L1328.5,414.0 L1328.6,413.0 L1328.8,412.6 L1329.0,412.6 L1329.0,322.7 L98.6,322.7 Z" fill="rgba(255,10,13,0.3)" stroke="none"/>
<path d="M98.6,332.4 L98.7,332.4 L99.1,332.4 L100.1,332.4 L100.6,332.4 L101.6,332.0 L102.0,331.0 L103.0,310.9 L103.4,309.7 L104.3,308.9 L106.2,307.9 L107.5,307.5 L108.8,307.6 L110.4,308.1 L111.8,308.3 L113.2,308.5 L116.9,308.7 L118.2,308.8 L119.3,308.6 L119.5,308.6 L120.3,308.8 L120.6,309.8 L122.1,332.1 L122.2,332.8 L122.3,332.1 L123.1,309.8 L123.2,308.4 L123.4,307.0 L124.6,301.1 L125.1,300.0 L126.3,299.7 L126.7,299.7 L127.8,300.0 L128.2,301.1 L129.1,317.9 L129.2,319.3 L129.3,320.7 L130.2,330.5 L130.3,331.2 L130.4,330.5 L131.3,312.0 L131.4,310.6 L131.5,309.2 L132.3,301.1 L132.8,300.0 L133.9,299.7 L134.8,299.7 L135.8,300.0 L136.2,301.1 L137.2,332.1 L137.6,333.1 L138.7,333.5 L144.2,333.8 L145.2,333.5 L145.6,332.5 L147.0,312.0 L147.3,310.7 L148.2,309.7 L148.8,309.3 L149.9,308.8 L151.1,309.1 L154.2,310.9 L155.4,311.5 L156.7,311.9 L160.5,312.5 L161.8,312.6 L162.9,312.6 L163.1,312.5 L163.8,312.7 L164.1,313.7 L165.1,332.7 L165.5,333.7 L166.6,334.0 L171.8,333.6 L172.9,333.1 L173.3,332.1 L174.9,309.8 L175.2,309.0 L176.1,309.2 L178.2,310.8 L179.4,311.6 L180.6,312.3 L184.6,314.3 L185.9,314.9 L187.1,315.5 L189.4,316.5 L190.4,317.3 L190.7,318.5 L191.9,337.5 L192.3,338.7 L193.3,339.4 L199.8,341.7 L200.8,341.7 L201.2,340.8 L202.7,320.7 L203.2,319.6 L204.3,319.3 L210.6,319.3 L212.0,319.1 L213.3,318.7 L219.5,315.6 L220.7,315.0 L222.1,314.6 L228.1,313.1 L229.1,313.2 L229.5,314.2 L231.1,335.3 L231.5,336.3 L232.5,336.4 L239.0,334.9 L240.0,334.3 L240.4,333.1 L241.4,309.8 L241.7,308.7 L242.8,308.1 L245.5,307.6 L246.9,307.4 L248.3,307.5 L255.3,308.2 L256.3,308.7 L256.7,309.8 L258.1,333.1 L258.5,334.4 L259.3,335.3 L266.4,340.3 L267.3,340.5 L267.7,339.7 L269.0,325.0 L269.2,324.3 L269.8,324.8 L271.2,326.8 L271.8,328.1 L272.0,329.4 L274.0,354.9 L274.2,356.3 L274.7,357.6 L275.0,358.3 L275.5,358.9 L275.7,358.2 L276.9,329.4 L276.9,328.0 L277.0,326.6 L278.4,298.9 L278.5,298.2 L278.6,298.9 L279.9,313.5 L280.0,314.9 L280.1,316.3 L281.1,326.6 L281.3,328.0 L281.4,329.4 L282.7,354.9 L282.8,356.3 L283.0,357.7 L284.4,371.3 L284.5,372.0 L284.6,371.3 L285.6,349.0 L285.6,347.6 L285.7,346.2 L287.1,320.7 L287.2,320.0 L287.3,320.7 L288.1,328.8 L288.4,329.5 L288.8,328.9 L289.9,326.0 L290.3,324.7 L290.6,323.3 L292.5,303.3 L292.6,302.6 L292.7,303.3 L293.6,317.9 L293.9,318.7 L294.7,318.3 L294.9,318.1 L295.7,317.4 L296.0,317.1 L296.0,317.1 L296.5,317.3 L297.5,317.7 L299.6,318.7 L300.8,319.4 L301.9,320.3 L302.1,320.5 L302.9,321.6 L303.5,322.8 L304.8,326.3 L305.2,326.9 L305.5,326.2 L306.7,320.7 L307.3,319.6 L308.4,319.0 L310.4,318.5 L311.8,318.2 L313.1,317.8 L317.0,316.5 L318.3,316.0 L319.6,315.4 L321.4,314.5 L322.4,314.3 L322.8,315.2 L324.3,333.1 L324.6,334.4 L325.1,335.3 L325.3,335.5 L326.1,336.0 L327.3,336.0 L333.3,334.8 L334.3,334.3 L334.8,333.1 L336.1,315.2 L336.4,314.0 L337.3,312.9 L339.0,311.5 L340.2,311.0 L341.4,311.2 L343.2,312.1 L344.5,312.5 L345.9,312.5 L350.3,311.9 L351.3,312.1 L351.7,313.1 L352.1,337.1 L352.4,338.2 L353.5,338.6 L356.6,338.9 L357.7,339.3 L358.1,340.4 L361.4,403.9 L361.5,404.6 L361.6,403.9 L365.2,332.0 L365.4,330.7 L365.7,329.4 L365.8,329.2 L366.2,328.0 L366.6,326.6 L368.1,320.6 L368.5,320.0 L368.9,320.6 L369.7,323.4 L370.1,324.8 L370.3,326.1 L371.5,336.4 L371.7,337.1 L371.8,336.4 L373.1,325.0 L373.5,324.2 L374.3,324.5 L374.9,325.0 L375.8,325.3 L376.3,324.4 L378.0,312.0 L378.2,310.6 L378.4,309.2 L379.6,298.9 L379.7,298.2 L379.8,298.9 L380.8,326.6 L380.8,328.0 L380.9,329.4 L381.9,359.3 L381.9,360.0 L382.0,359.3 L383.6,329.4 L383.8,328.0 L384.3,326.8 L385.2,324.9 L385.8,324.3 L386.3,325.0 L387.6,328.9 L388.0,329.5 L388.5,328.9 L389.8,325.0 L390.2,324.3 L390.7,324.9 L391.9,327.8 L392.4,328.5 L393.0,327.8 L393.9,326.0 L394.6,325.3 L395.4,325.9 L396.0,326.8 L396.7,327.4 L397.4,326.8 L398.3,324.9 L399.1,324.0 L400.3,323.8 L407.3,324.6 L408.4,324.3 L408.8,323.3 L410.2,294.5 L410.3,293.8 L410.4,294.5 L411.8,307.0 L412.1,308.4 L412.4,309.7 L413.7,313.6 L414.1,314.9 L414.4,316.3 L416.1,326.6 L416.3,328.0 L416.4,329.4 L417.8,364.7 L417.9,365.4 L417.9,364.7 L419.1,329.4 L419.4,328.1 L419.9,327.0 L420.0,326.8 L420.9,326.1 L422.1,325.8 L428.0,325.8 L429.1,325.5 L429.7,324.4 L431.0,316.3 L431.2,314.9 L431.6,313.6 L433.4,307.6 L434.0,306.6 L435.1,306.6 L441.1,308.1 L442.4,308.6 L443.4,309.5 L447.1,313.9 L447.8,315.0 L448.1,316.3 L449.2,329.2 L449.3,330.6 L449.4,332.0 L453.9,402.9 L454.2,404.0 L454.9,404.7 L455.1,404.8 L455.8,404.9 L456.1,403.9 L459.3,332.0 L459.4,330.6 L459.5,329.2 L460.9,314.1 L461.3,313.0 L462.4,312.5 L473.8,310.8 L474.9,311.0 L475.3,312.0 L476.8,333.1 L477.3,334.2 L478.3,334.5 L484.7,334.5 L485.8,334.2 L486.2,333.1 L487.7,312.0 L488.0,311.0 L488.8,311.1 L489.0,311.2 L490.1,311.5 L491.4,311.7 L502.1,311.7 L503.2,312.0 L503.6,313.1 L505.2,335.3 L505.6,336.5 L506.6,337.2 L509.4,338.4 L510.4,339.1 L510.9,340.3 L512.8,352.9 L513.0,354.3 L513.1,355.7 L515.0,389.5 L515.1,390.2 L515.1,389.5 L517.0,332.0 L517.1,330.6 L517.3,329.2 L518.0,326.1 L518.6,325.1 L519.7,324.7 L532.2,324.7 L533.2,324.4 L533.7,323.3 L535.2,301.1 L535.3,300.4 L535.4,301.1 L536.4,326.6 L536.4,328.0 L536.5,329.4 L537.2,350.6 L537.3,351.3 L537.3,350.6 L538.3,316.3 L538.4,314.9 L538.4,313.5 L539.6,294.5 L539.7,293.8 L539.7,294.5 L541.1,326.6 L541.2,327.3 L541.4,326.6 L542.1,320.7 L542.3,319.3 L542.5,317.9 L543.2,312.0 L543.4,311.3 L543.5,312.0 L544.8,326.6 L544.9,328.0 L545.0,329.4 L547.6,358.2 L547.7,358.9 L547.8,358.2 L549.2,329.4 L549.3,328.0 L549.3,326.6 L551.4,289.1 L551.4,288.4 L551.5,289.1 L553.1,341.9 L553.2,342.6 L553.2,341.9 L555.3,290.2 L555.4,289.5 L555.4,290.2 L556.6,322.2 L556.7,323.6 L556.7,325.0 L557.9,347.3 L558.0,348.0 L558.1,347.3 L559.6,327.2 L559.7,326.5 L559.9,327.2 L561.3,339.7 L561.5,340.4 L561.7,339.7 L563.9,325.0 L564.3,324.2 L565.2,324.5 L567.3,326.1 L568.5,326.7 L569.8,326.9 L577.9,326.9 L579.0,326.6 L579.5,325.5 L580.9,312.0 L581.1,310.6 L581.2,309.2 L582.5,292.4 L582.6,291.7 L582.7,292.4 L584.0,317.9 L584.2,319.3 L584.4,320.7 L586.7,333.2 L586.9,333.8 L587.0,333.1 L588.4,272.8 L588.5,272.1 L588.6,272.8 L590.1,296.1 L590.2,296.8 L590.3,296.1 L592.3,272.8 L592.5,271.4 L592.9,270.1 L595.1,265.0 L595.9,264.2 L597.0,264.2 L597.6,264.4 L598.6,265.1 L599.0,266.2 L600.0,296.1 L600.0,297.5 L600.1,298.9 L601.1,322.2 L601.2,323.6 L601.5,325.0 L603.0,331.0 L603.2,331.7 L603.4,331.0 L605.4,305.4 L605.5,304.7 L605.6,305.4 L607.6,335.3 L607.6,336.0 L607.7,335.3 L609.7,303.3 L609.8,302.6 L610.0,303.3 L612.9,328.8 L613.2,329.5 L613.5,328.8 L616.0,320.6 L616.5,319.9 L617.1,320.5 L619.9,324.7 L620.6,325.9 L621.0,327.2 L622.6,335.3 L622.8,336.7 L622.9,338.1 L624.4,381.1 L624.4,381.8 L624.5,381.1 L626.1,329.4 L626.3,328.0 L626.6,326.7 L627.9,322.8 L628.6,321.9 L629.6,322.0 L632.5,323.1 L633.6,323.2 L634.1,322.3 L635.6,316.3 L635.9,314.9 L636.2,313.5 L638.0,301.1 L638.1,300.4 L638.3,301.1 L640.2,326.6 L640.3,328.0 L640.4,329.4 L641.8,377.8 L641.9,378.5 L641.9,377.8 L643.1,329.4 L643.3,328.0 L643.6,326.7 L644.2,325.0 L644.9,323.9 L646.0,323.2 L649.9,321.9 L650.9,321.2 L651.3,320.1 L653.3,294.5 L653.4,293.8 L653.4,294.5 L654.4,326.6 L654.5,328.0 L654.5,329.4 L655.5,354.9 L655.6,355.6 L655.6,354.9 L656.8,329.4 L657.0,328.0 L657.3,326.7 L658.4,322.8 L659.0,322.1 L659.7,322.5 L663.4,326.9 L664.3,327.4 L665.0,326.8 L669.0,320.5 L669.6,319.2 L669.9,317.9 L671.7,303.2 L671.9,302.6 L672.1,303.2 L673.9,317.9 L674.3,319.1 L675.3,320.1 L676.2,320.7 L677.1,321.6 L677.7,322.8 L680.3,335.4 L680.6,336.7 L680.7,338.1 L682.7,375.6 L682.8,376.3 L682.9,375.6 L684.5,331.6 L684.6,330.2 L684.9,328.8 L685.7,326.1 L686.3,325.1 L687.5,324.7 L688.6,324.7 L690.0,324.7 L691.4,324.7 L706.0,324.7 L707.2,325.1 L707.8,326.1 L709.7,333.2 L710.0,333.9 L710.2,333.2 L712.7,314.1 L712.9,313.4 L713.0,314.1 L715.3,336.4 L715.5,337.1 L715.8,336.5 L718.0,328.3 L718.6,327.4 L719.6,327.4 L725.7,329.7 L727.0,329.8 L728.1,329.3 L732.5,325.6 L733.3,324.6 L733.7,323.3 L735.2,305.4 L735.3,304.0 L735.4,302.6 L736.8,272.8 L736.8,272.1 L736.9,272.8 L738.3,300.5 L738.4,301.9 L738.5,303.3 L739.5,312.5 L739.7,313.8 L740.1,315.2 L741.8,320.1 L742.4,320.9 L743.3,320.5 L747.8,315.9 L748.9,315.1 L750.2,314.7 L761.6,313.0 L762.7,313.2 L763.1,314.2 L764.6,335.3 L765.1,336.4 L766.1,336.7 L771.4,336.7 L772.5,336.4 L772.9,335.3 L774.4,314.2 L774.8,313.0 L775.9,312.4 L788.9,308.8 L789.9,308.8 L790.3,309.8 L791.9,333.1 L792.3,334.2 L793.4,334.6 L799.7,334.9 L800.8,334.6 L801.2,333.6 L802.7,314.1 L803.2,313.0 L804.2,312.5 L815.0,310.8 L816.0,311.0 L816.5,312.0 L818.4,335.3 L818.7,336.7 L819.2,338.0 L822.3,344.2 L822.8,345.5 L823.0,346.8 L824.9,365.8 L825.1,367.2 L825.2,368.6 L826.5,381.1 L826.6,381.8 L826.7,381.1 L828.3,349.0 L828.4,347.6 L828.6,346.2 L831.4,329.4 L831.6,328.7 L831.7,329.4 L833.2,346.2 L833.4,347.6 L833.5,349.0 L834.8,365.8 L834.9,366.5 L834.9,365.8 L836.4,307.6 L836.4,306.9 L836.5,307.6 L838.5,350.6 L838.6,351.3 L838.7,350.6 L840.2,325.0 L840.4,324.3 L840.6,325.0 L843.3,337.5 L843.9,338.5 L844.9,338.5 L849.9,337.1 L851.1,336.5 L852.1,335.6 L856.9,329.1 L857.6,328.6 L858.0,329.4 L859.1,337.5 L859.2,338.2 L859.3,337.5 L860.5,305.4 L860.6,304.0 L860.7,302.6 L862.1,271.7 L862.1,271.0 L862.2,271.7 L863.5,291.7 L863.7,293.1 L863.8,294.5 L866.3,311.4 L866.5,312.8 L866.7,314.1 L868.4,324.4 L868.7,325.2 L869.3,324.6 L871.3,320.5 L872.1,319.5 L873.2,318.8 L876.1,317.6 L877.4,317.1 L878.6,316.5 L884.8,313.4 L885.8,313.3 L886.2,314.2 L887.7,335.3 L888.1,336.3 L889.1,336.2 L891.3,335.5 L892.3,335.2 L892.7,335.6 L892.8,335.7 L893.2,336.1 L894.3,336.1 L898.4,335.5 L899.5,334.9 L899.9,333.8 L900.8,318.1 L900.9,316.7 L901.1,315.3 L901.8,309.4 L902.0,308.7 L902.1,309.4 L903.4,324.0 L903.5,325.4 L903.6,326.8 L904.2,332.8 L904.7,333.6 L905.6,333.5 L907.3,332.6 L908.3,331.9 L909.0,331.0 L909.1,330.8 L909.8,330.0 L911.0,329.8 L918.0,329.8 L919.1,329.4 L919.5,328.4 L920.8,312.7 L921.1,311.5 L921.7,310.8 L921.9,310.7 L922.8,310.3 L924.1,310.3 L934.4,311.2 L935.4,311.6 L935.9,312.7 L937.8,334.9 L938.0,336.2 L938.4,337.3 L938.5,337.5 L939.2,338.5 L940.1,339.4 L946.0,344.2 L946.8,344.5 L947.2,343.6 L948.7,326.8 L948.9,325.5 L949.3,324.5 L949.4,324.2 L950.0,323.8 L950.8,324.3 L954.5,328.7 L955.4,329.3 L956.3,328.8 L958.7,326.4 L959.5,326.0 L960.0,326.8 L962.7,339.3 L963.0,340.0 L963.2,339.3 L965.0,326.8 L965.1,326.1 L965.3,326.8 L966.2,341.5 L966.2,342.2 L966.3,341.5 L967.9,292.0 L968.0,291.3 L968.1,292.0 L969.5,324.0 L969.5,325.4 L969.7,326.8 L972.7,358.9 L972.8,359.6 L972.9,358.9 L974.8,337.7 L975.1,337.0 L975.5,337.6 L978.8,345.9 L979.5,346.9 L980.7,347.4 L986.7,348.1 L987.7,347.9 L988.1,346.9 L989.7,318.1 L989.8,316.7 L989.9,315.3 L991.9,278.9 L992.1,278.2 L992.7,278.7 L993.9,280.7 L994.4,281.9 L994.6,283.3 L996.7,324.0 L996.8,325.4 L996.9,326.8 L998.8,354.5 L998.9,355.2 L999.0,354.5 L1000.0,331.2 L1000.0,330.5 L1000.1,331.2 L1002.1,358.9 L1002.2,359.6 L1002.3,358.9 L1004.2,339.9 L1004.4,338.5 L1004.6,337.1 L1006.3,326.8 L1006.5,325.4 L1006.7,324.0 L1008.6,309.4 L1008.7,308.0 L1008.8,306.6 L1010.8,278.9 L1010.9,278.2 L1011.0,278.9 L1012.3,297.9 L1012.5,299.3 L1012.6,300.7 L1015.1,319.7 L1015.3,321.1 L1015.5,322.5 L1016.1,326.2 L1016.6,327.2 L1017.7,327.2 L1030.3,323.6 L1031.6,323.4 L1033.0,323.6 L1037.9,325.0 L1039.0,325.2 L1039.6,325.0 L1039.7,324.9 L1040.2,324.8 L1041.1,325.4 L1042.7,326.7 L1043.5,327.8 L1043.9,329.0 L1046.2,365.6 L1046.3,366.3 L1046.4,365.6 L1048.7,313.3 L1048.8,312.6 L1048.8,313.3 L1050.4,392.3 L1050.4,393.0 L1050.4,392.3 L1053.2,288.1 L1053.2,287.4 L1053.4,288.1 L1055.6,310.5 L1055.7,311.9 L1055.9,313.3 L1057.1,323.1 L1057.3,324.5 L1057.4,325.9 L1059.4,360.9 L1059.5,362.3 L1059.6,363.7 L1062.0,425.4 L1062.0,426.1 L1062.1,425.4 L1065.1,388.8 L1065.2,387.4 L1065.4,386.1 L1066.6,376.2 L1066.7,375.6 L1066.8,376.3 L1068.3,425.4 L1068.3,426.1 L1068.4,425.4 L1070.8,376.3 L1070.9,375.6 L1071.0,376.3 L1072.9,398.6 L1073.1,400.0 L1073.2,401.4 L1075.1,414.4 L1075.3,415.1 L1075.7,414.4 L1078.9,404.5 L1079.3,403.9 L1079.8,404.5 L1082.1,411.3 L1082.7,412.3 L1083.9,412.5 L1095.3,411.2 L1096.7,411.1 L1098.0,411.3 L1115.7,414.0 L1116.8,413.8 L1117.2,412.8 L1119.2,376.3 L1119.3,374.9 L1119.4,373.5 L1121.8,332.2 L1122.1,330.9 L1122.8,329.8 L1124.0,328.6 L1124.8,327.5 L1125.1,326.2 L1128.0,296.0 L1128.1,295.3 L1128.3,296.0 L1130.5,323.1 L1130.7,324.5 L1130.8,325.9 L1133.7,360.9 L1133.8,361.6 L1133.9,360.9 L1135.3,325.9 L1135.4,325.2 L1135.5,325.9 L1138.1,360.9 L1138.4,362.2 L1139.1,363.4 L1139.8,364.3 L1140.5,365.5 L1140.8,366.8 L1144.7,425.4 L1144.8,426.1 L1144.9,425.4 L1148.5,363.7 L1148.6,363.0 L1148.7,363.7 L1151.7,427.0 L1151.7,427.7 L1151.8,427.0 L1155.7,365.2 L1155.8,364.5 L1155.9,365.2 L1158.0,427.0 L1158.0,427.7 L1158.1,427.0 L1159.6,388.8 L1159.6,387.4 L1159.7,386.1 L1162.6,347.9 L1163.0,346.7 L1164.0,345.9 L1164.7,345.6 L1165.6,345.5 L1166.0,346.4 L1167.7,373.5 L1167.8,374.9 L1167.8,376.3 L1169.6,423.8 L1169.7,424.5 L1169.7,423.8 L1171.5,376.3 L1171.6,374.9 L1171.6,373.5 L1172.8,351.1 L1172.8,350.4 L1172.9,351.1 L1174.0,389.2 L1174.1,390.6 L1174.1,392.0 L1175.3,423.8 L1175.3,424.5 L1175.4,423.8 L1177.2,363.7 L1177.2,362.3 L1177.3,360.9 L1178.4,344.8 L1178.5,344.1 L1178.6,344.8 L1180.3,386.0 L1180.4,387.4 L1180.5,388.8 L1182.2,417.5 L1182.3,418.2 L1182.3,417.5 L1183.5,376.3 L1183.5,374.9 L1183.6,373.5 L1184.7,344.8 L1184.8,344.1 L1184.8,344.8 L1186.0,379.8 L1186.1,381.2 L1186.1,382.6 L1187.3,411.2 L1187.3,411.9 L1187.3,411.2 L1188.5,363.7 L1188.6,362.3 L1188.6,360.9 L1189.4,344.8 L1189.8,343.5 L1190.7,342.6 L1193.1,341.0 L1194.1,340.8 L1194.7,341.6 L1196.9,348.3 L1197.3,349.7 L1197.4,351.1 L1199.2,389.2 L1199.3,390.6 L1199.3,392.0 L1201.1,425.4 L1201.5,426.4 L1202.6,426.7 L1219.6,425.3 L1220.6,424.9 L1221.0,423.8 L1221.9,392.0 L1221.9,390.6 L1222.0,389.2 L1222.5,373.1 L1222.6,372.4 L1222.6,373.1 L1223.4,389.2 L1223.5,390.6 L1223.6,392.0 L1224.7,425.4 L1225.1,426.4 L1226.1,426.5 L1259.0,420.7 L1260.3,420.6 L1261.7,420.6 L1274.7,421.9 L1275.9,422.3 L1276.8,423.2 L1278.4,425.6 L1279.0,426.2 L1279.3,425.4 L1280.4,401.4 L1280.5,400.0 L1280.5,398.6 L1281.4,382.6 L1281.4,381.9 L1281.5,382.5 L1282.9,404.9 L1283.0,406.3 L1283.2,407.7 L1285.3,423.8 L1285.7,425.1 L1286.6,426.1 L1288.2,427.5 L1289.0,427.8 L1289.4,427.0 L1291.1,392.0 L1291.2,390.6 L1291.3,389.2 L1293.3,357.4 L1293.5,356.6 L1294.0,357.2 L1295.9,361.0 L1296.4,362.3 L1296.7,363.7 L1299.5,389.2 L1299.7,389.9 L1299.8,389.2 L1302.7,357.4 L1302.8,356.0 L1302.9,354.6 L1304.3,335.3 L1304.4,333.9 L1304.5,332.5 L1305.8,319.6 L1306.0,318.2 L1306.1,316.8 L1307.4,297.6 L1307.5,296.9 L1307.6,297.6 L1308.8,342.0 L1308.8,343.4 L1308.8,344.8 L1310.0,390.8 L1310.1,391.5 L1310.2,390.8 L1312.8,362.1 L1312.9,361.4 L1313.0,362.1 L1314.3,376.6 L1314.5,378.0 L1314.5,379.4 L1315.7,404.9 L1315.7,406.3 L1315.8,407.7 L1316.9,431.7 L1317.3,432.7 L1318.4,432.9 L1325.1,431.7 L1326.1,431.2 L1326.6,430.1 L1328.5,414.0 L1328.6,413.0 L1328.8,412.6 L1329.0,412.6" stroke="rgba(255,0,0,0.75)" stroke-width="1.5"/>
<path d="M98.6,314.9 L98.7,314.9 L100.8,314.5 L102.9,315.0 L105.0,314.7 L107.0,315.1 L109.1,315.2 L111.2,314.2 L113.3,314.1 L115.4,315.5 L117.4,314.5 L119.5,314.5 L121.6,314.9 L122.0,313.5 L123.0,281.9 L124.4,281.1 L125.3,303.0 L126.2,284.5 L127.6,283.2 L128.5,303.0 L129.4,284.5 L130.8,283.2 L131.8,306.9 L132.6,314.3 L134.6,314.3 L135.5,281.9 L137.0,281.1 L137.9,314.8 L140.1,314.9 L142.1,315.8 L144.1,314.9 L146.1,315.5 L148.1,314.9 L150.2,315.2 L152.2,314.3 L154.2,315.2 L156.2,315.6 L158.2,315.0 L160.2,315.4 L162.2,315.2 L164.2,314.1 L166.2,315.4 L168.2,315.1 L170.2,314.6 L172.3,314.1 L174.3,315.6 L176.3,314.9 L178.3,315.3 L180.3,315.6 L182.3,315.3 L184.3,315.7 L186.3,314.7 L188.3,315.5 L190.3,314.8 L192.3,315.7 L194.3,315.6 L196.4,314.2 L198.4,314.3 L200.4,314.4 L202.4,315.8 L204.4,314.8 L206.4,315.2 L208.4,314.6 L210.4,314.9 L212.4,314.7 L214.4,314.7 L216.4,315.1 L218.5,315.1 L220.5,315.7 L222.5,315.3 L224.5,315.7 L226.5,315.6 L228.5,315.8 L230.5,315.2 L232.5,314.3 L234.5,315.6 L236.5,315.8 L238.5,315.7 L240.6,315.1 L242.6,315.3 L244.6,314.4 L246.6,315.5 L248.6,315.1 L250.6,314.5 L252.6,314.1 L254.6,315.6 L256.6,315.8 L258.6,314.2 L260.6,315.5 L262.7,314.8 L264.7,314.3 L266.7,314.6 L268.7,315.4 L270.7,315.6 L272.7,314.1 L274.7,315.1 L276.7,314.1 L278.7,315.3 L280.7,314.6 L282.7,315.6 L284.7,315.8 L286.8,314.9 L288.8,315.8 L290.8,314.6 L292.8,314.2 L294.8,314.9 L295.1,316.0 L297.1,316.2 L299.2,315.2 L301.2,315.5 L303.2,315.9 L305.2,316.2 L307.3,315.4 L309.3,315.2 L311.3,316.7 L313.4,315.7 L315.4,316.8 L317.4,316.7 L319.4,315.8 L321.5,316.0 L323.5,316.1 L325.5,316.3 L327.6,316.2 L329.6,316.1 L331.6,316.2 L333.6,316.8 L335.7,316.0 L337.7,315.9 L339.7,316.4 L341.8,315.5 L343.8,315.7 L345.8,316.9 L347.8,316.1 L349.9,316.1 L351.9,315.1 L353.9,315.9 L356.0,316.2 L358.0,315.2 L360.0,316.2 L362.0,316.3 L364.1,316.0 L368.4,310.6 L371.7,308.4 L373.9,308.4 L377.1,312.8 L378.9,304.0 L380.2,305.1 L382.6,313.8 L385.9,316.0 L388.0,315.0 L390.2,315.7 L392.4,315.2 L394.6,315.3 L396.8,314.5 L398.9,314.5 L401.1,314.4 L403.3,314.1 L405.5,312.3 L407.6,312.8 L409.8,309.5 L411.6,308.4 L414.2,312.3 L416.2,311.6 L418.2,312.9 L420.3,313.5 L422.3,312.3 L424.3,312.8 L426.3,313.1 L428.3,312.8 L430.4,312.9 L432.4,313.0 L434.4,313.2 L436.4,313.7 L438.5,313.3 L440.5,313.5 L442.5,313.8 L444.9,314.3 L447.3,313.0 L449.7,314.0 L452.1,314.3 L454.5,313.8 L456.7,307.3 L458.8,313.8 L461.0,313.5 L463.1,313.3 L465.2,314.4 L467.3,313.4 L469.4,313.3 L471.5,313.7 L473.6,314.2 L475.8,313.1 L477.9,313.5 L480.0,313.5 L482.1,314.4 L484.2,313.7 L486.3,314.5 L488.4,313.2 L490.6,313.5 L492.7,314.1 L494.8,313.8 L495.1,313.8 L497.8,315.6 L500.4,315.9 L503.1,317.1 L505.1,316.6 L507.1,316.4 L509.2,317.2 L511.2,316.6 L513.2,317.7 L515.3,317.7 L517.3,316.5 L519.3,316.7 L521.4,317.7 L523.4,317.4 L525.4,317.7 L527.5,316.8 L529.5,316.4 L531.5,316.7 L533.6,317.1 L535.8,310.6 L539.0,312.8 L542.3,313.2 L546.6,316.0 L551.0,310.6 L553.2,308.4 L555.4,312.8 L557.5,313.3 L559.7,312.3 L561.9,312.8 L564.1,312.5 L566.3,312.6 L568.4,312.6 L570.6,312.6 L572.8,313.5 L575.0,312.8 L579.3,314.9 L583.2,310.6 L584.8,255.0 L586.9,255.0 L589.1,262.6 L592.4,252.8 L595.7,251.8 L597.8,260.5 L600.0,258.3 L601.1,275.7 L602.6,241.9 L604.2,256.1 L605.5,271.4 L607.6,258.3 L609.4,252.8 L612.0,260.5 L616.4,255.0 L619.1,255.5 L621.8,257.2 L623.3,271.4 L624.6,312.8 L626.9,311.9 L629.2,313.6 L631.5,313.4 L633.8,312.8 L637.1,308.4 L638.6,305.1 L640.3,312.8 L642.5,313.6 L644.7,312.6 L646.9,313.6 L649.0,313.5 L651.2,312.8 L653.4,310.6 L655.6,313.2 L657.8,312.6 L659.9,313.5 L662.1,313.6 L664.3,313.2 L666.5,312.9 L668.6,312.8 L670.8,300.8 L673.0,312.8 L675.0,312.4 L677.1,312.5 L679.1,312.3 L681.2,312.0 L683.2,312.9 L685.3,312.4 L687.3,313.3 L689.3,312.8 L690.0,312.8 L692.1,311.9 L694.1,313.5 L696.2,313.1 L698.3,313.5 L700.4,313.5 L702.4,313.5 L704.5,312.9 L706.6,311.9 L708.7,313.2 L710.7,312.2 L712.8,312.4 L714.9,313.0 L717.0,312.8 L719.0,312.6 L721.1,313.5 L723.2,313.0 L725.3,312.5 L727.3,312.3 L729.4,313.4 L731.5,312.7 L733.6,312.8 L735.8,304.0 L737.9,312.8 L740.0,313.3 L742.0,312.5 L744.0,312.2 L746.1,312.8 L748.1,313.3 L750.1,312.2 L752.1,313.3 L754.2,313.5 L756.2,313.3 L758.2,313.3 L760.3,311.9 L762.3,313.0 L764.3,313.4 L766.4,311.9 L768.4,312.3 L770.4,312.3 L772.4,312.8 L774.5,312.6 L776.5,312.7 L778.5,313.3 L780.6,311.9 L782.6,312.0 L784.6,312.1 L786.7,312.1 L788.7,312.0 L790.7,313.6 L792.7,313.4 L794.8,312.0 L796.8,312.8 L798.8,312.4 L800.9,312.4 L802.9,312.5 L804.9,313.0 L807.0,312.9 L809.0,312.5 L811.0,312.2 L813.0,312.4 L815.1,312.1 L817.1,312.9 L819.1,313.1 L821.2,312.5 L823.2,312.0 L825.2,312.2 L827.3,312.8 L829.4,293.1 L832.7,275.7 L834.9,277.9 L836.4,312.8 L838.5,312.7 L840.6,313.3 L842.8,313.7 L844.9,313.2 L847.0,314.1 L849.1,313.9 L851.2,313.8 L853.4,321.5 L855.6,314.9 L859.9,310.6 L862.1,304.0 L864.3,312.8 L866.4,312.6 L868.5,312.5 L870.6,312.7 L872.6,313.1 L874.7,312.6 L876.8,313.1 L878.9,312.7 L881.0,312.3 L883.1,312.8 L885.2,313.1 L887.3,312.0 L889.3,312.8 L891.5,306.2 L893.7,312.8 L895.8,312.6 L897.9,312.6 L900.0,312.8 L900.3,314.5 L900.5,288.4 L902.0,287.3 L903.5,288.4 L904.8,314.5 L908.5,314.5 L910.0,310.2 L911.8,314.5 L913.8,315.2 L915.8,315.3 L917.8,314.3 L919.8,315.3 L921.8,315.1 L923.8,314.1 L925.8,314.5 L927.8,313.9 L929.8,315.1 L931.9,314.8 L933.9,315.2 L935.9,315.1 L937.9,314.8 L939.9,315.0 L941.9,314.7 L943.9,313.8 L945.9,314.7 L947.9,313.6 L949.9,313.9 L951.9,315.0 L953.9,313.7 L955.9,313.8 L957.9,313.8 L959.9,315.2 L962.0,314.0 L964.0,313.7 L966.0,315.2 L968.0,313.9 L970.0,315.2 L972.0,314.9 L974.0,315.1 L976.0,315.4 L978.0,314.7 L980.0,315.1 L982.0,313.7 L984.0,315.0 L986.0,314.6 L988.0,314.5 L989.6,288.4 L991.1,286.2 L992.4,299.3 L994.6,312.4 L996.8,312.9 L998.9,312.0 L1001.1,313.4 L1003.3,313.9 L1005.5,312.5 L1007.6,313.5 L1010.9,305.8 L1013.1,312.4 L1015.1,311.9 L1017.2,312.2 L1019.2,312.5 L1021.3,311.4 L1023.3,311.1 L1025.3,311.1 L1027.4,311.6 L1029.4,311.3 L1031.6,308.0 L1033.8,312.4 L1036.5,313.4 L1039.2,313.5 L1040.0,313.5 L1042.6,312.8 L1045.2,312.2 L1047.9,311.9 L1051.0,293.0 L1054.2,311.9 L1056.3,311.9 L1058.5,312.0 L1060.7,312.3 L1062.8,311.9 L1065.0,312.9 L1067.1,313.9 L1069.3,313.1 L1071.5,313.5 L1074.6,307.2 L1077.8,310.3 L1080.9,304.0 L1083.4,311.9 L1085.5,312.4 L1087.6,311.5 L1089.7,312.5 L1091.7,312.7 L1093.8,312.6 L1095.9,312.4 L1098.0,312.4 L1100.1,312.8 L1102.1,313.3 L1104.2,312.1 L1106.3,312.0 L1108.4,313.3 L1110.4,313.7 L1112.5,313.0 L1114.6,313.0 L1116.7,313.6 L1118.8,312.7 L1120.8,312.9 L1122.9,312.9 L1125.0,313.5 L1128.1,308.1 L1131.3,313.5 L1133.3,313.6 L1135.3,313.1 L1137.4,313.0 L1139.4,313.8 L1141.4,314.3 L1143.4,313.1 L1145.4,313.5 L1147.0,293.0 L1150.2,294.6 L1152.1,307.2 L1153.9,305.6 L1156.5,316.6 L1158.7,318.2 L1161.2,310.3 L1164.3,315.1 L1167.0,313.8 L1169.7,311.9 L1172.2,315.1 L1174.2,314.9 L1176.3,315.7 L1178.3,315.2 L1180.3,314.6 L1182.4,314.5 L1184.4,314.2 L1186.4,315.0 L1188.5,314.8 L1190.5,314.5 L1192.5,314.8 L1194.6,314.7 L1196.6,315.5 L1198.6,314.4 L1200.7,315.9 L1202.7,315.0 L1204.7,315.2 L1206.8,315.0 L1208.8,315.7 L1210.8,315.6 L1212.9,315.2 L1214.9,315.0 L1216.9,315.4 L1219.0,315.7 L1221.0,315.1 L1222.2,261.5 L1223.0,261.5 L1224.3,315.1 L1226.3,314.9 L1228.3,315.5 L1230.4,315.9 L1232.4,315.0 L1234.4,314.6 L1236.4,314.6 L1238.5,315.4 L1240.5,315.4 L1242.5,315.9 L1244.5,315.7 L1246.5,314.6 L1248.6,314.5 L1250.6,314.6 L1252.6,314.5 L1254.6,315.4 L1256.7,315.7 L1258.7,315.8 L1260.7,314.6 L1262.7,315.7 L1264.7,314.7 L1266.8,314.9 L1268.8,315.5 L1270.8,314.3 L1272.8,314.3 L1274.9,315.7 L1276.9,314.7 L1278.9,315.1 L1280.2,284.2 L1282.4,282.0 L1283.9,311.9 L1288.7,311.9 L1290.9,305.6 L1293.4,313.5 L1295.6,312.9 L1297.8,313.0 L1300.0,312.9 L1302.2,311.3 L1304.4,311.9 L1307.5,308.1 L1310.7,313.5 L1312.8,314.2 L1314.9,315.5 L1317.0,316.6 L1320.1,314.4 L1322.3,314.4 L1324.4,313.9 L1326.5,314.6 L1328.6,314.4 L1329.0,314.4" stroke="rgba(0,0,0,0.74)" stroke-width="3.1"/>
<path d="M98.6,480.2 L1135.6,480.2 L1135.6,88.8 L1329.0,88.8" stroke="rgba(0,0,255,0.55)" stroke-width="2.7" stroke-dasharray="15 7.5"/>
<path d="M98.6,322.6 L98.7,322.6 L98.8,322.3 L98.9,321.6 L103.3,299.6 L103.7,298.8 L104.5,298.6 L119.5,298.6 L120.3,298.8 L120.6,299.6 L123.0,321.6 L123.3,322.3 L124.1,322.6 L144.6,322.6 L145.3,322.3 L145.6,321.6 L147.6,299.6 L148.0,298.8 L148.7,298.6 L163.1,298.6 L163.8,298.8 L164.2,299.6 L166.2,321.6 L166.5,322.3 L167.3,322.6 L171.8,322.6 L172.6,322.3 L172.9,321.6 L175.3,299.6 L175.6,298.8 L176.4,298.6 L189.7,298.6 L190.4,298.8 L190.7,299.6 L192.7,321.6 L193.1,322.3 L193.8,322.6 L200.1,322.6 L200.9,322.3 L201.2,321.6 L203.2,299.6 L203.5,298.8 L204.3,298.6 L228.4,298.6 L229.2,298.8 L229.5,299.6 L231.5,321.6 L231.8,322.3 L232.6,322.6 L238.2,322.6 L239.0,322.3 L239.3,321.6 L241.7,299.6 L242.1,298.8 L242.9,298.6 L256.3,298.6 L257.1,298.8 L257.4,299.6 L259.4,321.6 L259.7,322.3 L260.5,322.6 L266.6,322.6 L267.3,322.3 L267.7,321.6 L269.6,299.6 L270.0,298.8 L270.7,298.6 L273.1,298.6 L273.9,298.3 L274.2,297.6 L277.7,235.3 L278.0,234.7 L278.6,234.8 L278.8,234.9 L279.4,235.5 L279.6,236.4 L281.7,297.6 L281.9,298.3 L282.5,298.6 L282.7,298.6 L283.3,298.3 L283.5,297.6 L285.4,235.3 L285.6,234.4 L286.2,233.8 L286.4,233.7 L287.2,233.4 L288.2,233.2 L292.7,233.2 L293.5,233.5 L293.7,234.2 L295.8,297.6 L295.9,298.3 L296.0,298.6 L296.0,298.6 L296.4,298.6 L297.2,298.6 L322.8,298.6 L323.5,298.8 L323.9,299.6 L325.9,320.9 L326.2,321.7 L326.9,321.9 L332.6,321.9 L333.3,321.7 L333.7,320.9 L335.7,299.6 L336.0,298.8 L336.8,298.6 L350.7,298.6 L351.4,298.8 L351.7,299.6 L353.7,320.9 L354.1,321.7 L354.8,321.9 L359.8,321.9 L360.6,321.7 L360.9,320.9 L363.6,272.4 L363.6,271.4 L363.7,270.4 L365.1,241.9 L365.4,241.1 L366.2,240.9 L367.4,240.9 L368.2,241.1 L368.5,241.9 L369.4,251.8 L369.5,252.8 L369.7,253.8 L371.5,263.8 L371.7,264.3 L371.9,263.8 L373.7,253.8 L374.1,253.1 L374.9,252.8 L376.1,252.8 L377.0,252.6 L377.4,251.9 L378.6,247.3 L379.0,246.7 L379.6,246.8 L379.7,246.9 L380.2,247.5 L380.4,248.4 L381.9,297.6 L381.9,298.1 L382.0,297.6 L384.7,247.3 L384.9,246.8 L385.3,247.1 L386.4,248.7 L387.0,249.2 L387.7,248.9 L388.4,248.1 L389.1,247.8 L389.6,248.3 L390.9,250.9 L391.3,251.3 L391.7,250.8 L393.1,247.9 L393.5,247.4 L394.0,247.8 L395.2,249.8 L395.6,250.2 L396.1,249.8 L397.4,247.2 L397.8,246.8 L398.3,247.2 L400.7,251.9 L401.2,252.6 L402.1,253.0 L409.9,253.8 L410.7,254.2 L411.0,254.9 L413.7,297.6 L414.0,298.3 L414.7,298.6 L417.1,298.6 L417.9,298.3 L418.2,297.6 L420.7,254.5 L421.0,253.7 L421.7,253.5 L430.6,253.5 L431.4,253.7 L431.7,254.5 L434.2,297.6 L434.5,298.3 L435.2,298.6 L447.0,298.6 L447.7,298.8 L448.0,299.6 L450.0,320.9 L450.4,321.7 L451.1,321.9 L457.8,321.9 L458.6,321.7 L458.9,320.9 L460.9,299.6 L461.3,298.8 L462.0,298.6 L475.3,298.6 L476.0,298.8 L476.4,299.6 L478.4,320.9 L478.7,321.7 L479.5,321.9 L485.1,321.9 L485.9,321.7 L486.2,320.9 L488.2,299.6 L488.4,298.8 L489.0,298.6 L489.2,298.6 L490.1,298.6 L491.0,298.6 L503.2,298.6 L503.9,298.8 L504.2,299.6 L505.6,320.9 L505.9,321.7 L506.7,321.9 L511.9,321.9 L512.6,321.7 L512.9,320.9 L517.2,235.3 L517.5,234.6 L518.2,234.3 L535.0,234.3 L535.7,234.6 L536.1,235.3 L539.8,268.2 L539.9,269.2 L540.0,270.2 L542.2,290.0 L542.4,290.9 L542.7,291.9 L544.3,295.3 L544.8,295.9 L545.6,295.8 L545.8,295.7 L546.4,295.2 L546.7,294.3 L550.9,235.3 L551.0,234.8 L551.1,235.3 L553.0,248.6 L553.2,249.1 L553.3,248.6 L554.4,239.7 L554.5,239.2 L554.5,239.7 L556.0,286.7 L556.0,287.2 L556.1,286.7 L559.6,250.6 L559.8,249.6 L560.0,248.6 L563.8,235.3 L564.1,234.8 L564.3,235.3 L565.0,238.8 L565.4,239.5 L566.2,239.8 L576.1,239.8 L577.0,239.5 L577.5,238.8 L579.0,235.3 L579.5,234.6 L580.3,234.3 L581.6,234.3 L582.4,234.6 L582.7,235.3 L586.9,296.5 L587.2,297.2 L587.9,297.5 L606.6,296.5 L607.4,296.2 L607.8,295.4 L609.2,288.7 L609.4,288.2 L609.6,288.7 L610.9,295.4 L611.3,296.0 L611.9,295.8 L614.5,293.8 L615.2,293.5 L615.8,294.0 L616.9,295.6 L617.6,296.2 L618.5,296.4 L621.9,296.4 L622.7,296.2 L623.0,295.4 L626.8,240.8 L626.9,240.3 L627.2,240.7 L629.1,245.4 L629.4,245.8 L629.7,245.4 L631.3,240.7 L631.8,240.0 L632.6,239.8 L635.0,239.8 L635.7,240.0 L636.0,240.8 L640.3,295.4 L640.3,295.9 L640.4,295.4 L643.5,240.8 L643.8,240.0 L644.6,239.8 L652.4,239.8 L653.2,240.0 L653.5,240.8 L655.5,272.5 L655.6,273.0 L655.7,272.5 L658.1,240.8 L658.3,240.2 L658.7,240.6 L661.6,245.4 L662.2,245.9 L662.9,245.7 L667.9,241.5 L668.5,241.3 L668.8,241.9 L675.1,295.4 L675.4,296.2 L676.2,296.4 L680.7,296.4 L681.5,296.2 L681.8,295.4 L686.0,234.9 L686.3,234.1 L687.1,233.9 L689.0,233.9 L690.0,233.9 L691.0,233.9 L707.5,233.9 L708.3,234.1 L708.8,234.8 L710.4,239.9 L710.7,240.4 L711.0,239.9 L712.6,235.3 L712.8,234.8 L713.0,235.3 L714.9,246.4 L715.1,246.9 L715.2,246.4 L717.1,234.9 L717.4,234.1 L718.2,233.9 L735.8,233.9 L736.6,234.1 L736.9,234.9 L739.6,297.6 L739.9,298.3 L740.7,298.6 L762.0,298.6 L762.8,298.8 L763.1,299.6 L765.1,320.9 L765.4,321.7 L766.2,321.9 L771.4,321.9 L772.1,321.7 L772.4,320.9 L774.4,299.6 L774.8,298.8 L775.5,298.6 L789.7,298.6 L790.4,298.8 L790.7,299.6 L792.7,320.9 L793.1,321.7 L793.8,321.9 L799.7,321.9 L800.4,321.7 L800.8,320.9 L802.8,299.6 L803.1,298.8 L803.9,298.6 L815.4,298.6 L816.1,298.8 L816.5,299.6 L818.9,320.9 L819.2,321.7 L820.0,321.9 L825.8,321.9 L826.6,321.7 L827.0,320.9 L832.6,278.9 L832.7,277.9 L832.8,276.9 L836.3,234.9 L836.4,234.4 L836.5,234.9 L838.1,252.9 L838.2,253.4 L838.4,253.0 L842.3,235.3 L842.7,234.6 L843.5,234.3 L862.2,233.9 L863.0,234.1 L863.3,234.9 L866.8,297.6 L867.1,298.3 L867.9,298.6 L885.1,298.6 L885.9,298.8 L886.2,299.6 L888.2,320.9 L888.5,321.7 L889.3,322.0 L890.1,322.1 L891.1,322.1 L892.1,322.2 L918.4,322.2 L919.2,321.9 L919.5,321.2 L921.5,299.2 L921.8,298.4 L922.6,298.2 L935.8,298.2 L936.6,298.4 L937.0,299.2 L939.6,321.2 L939.9,321.9 L940.7,322.2 L946.1,322.2 L946.9,321.9 L947.2,321.2 L949.2,299.2 L949.5,298.4 L950.3,298.2 L952.2,298.2 L953.0,298.0 L953.4,297.2 L955.2,288.3 L955.6,287.6 L956.4,287.3 L960.9,287.3 L961.7,287.1 L962.1,286.3 L965.0,269.8 L965.1,268.8 L965.3,267.8 L967.7,248.0 L967.8,247.5 L967.9,248.0 L971.0,285.2 L971.0,285.7 L971.1,285.2 L974.9,234.9 L975.2,234.2 L976.0,233.9 L993.1,233.9 L993.9,234.2 L994.2,234.9 L997.1,291.8 L997.2,292.3 L997.3,291.8 L1001.0,250.2 L1001.1,249.2 L1001.3,248.2 L1004.2,234.9 L1004.6,234.2 L1005.4,233.9 L1012.1,233.9 L1012.9,234.2 L1013.1,234.9 L1015.9,285.2 L1016.1,286.2 L1016.5,287.0 L1020.1,291.9 L1020.8,292.6 L1021.7,292.8 L1028.4,292.8 L1029.3,292.9 L1030.1,293.5 L1033.2,297.4 L1033.9,298.0 L1034.8,298.2 L1038.2,298.2 L1039.1,298.0 L1039.6,297.3 L1039.7,297.1 L1040.2,296.4 L1041.0,296.2 L1043.7,296.2 L1044.5,295.9 L1044.8,295.2 L1047.8,240.5 L1047.9,240.0 L1047.9,240.5 L1050.3,295.2 L1050.4,295.7 L1050.4,295.2 L1052.6,238.9 L1052.6,238.4 L1052.6,238.9 L1054.1,291.4 L1054.4,292.2 L1055.2,292.5 L1057.9,292.9 L1058.7,293.2 L1058.9,294.0 L1060.4,321.0 L1060.7,321.7 L1061.5,322.0 L1117.7,322.0 L1118.5,321.7 L1118.7,321.0 L1122.4,234.2 L1122.7,233.5 L1123.5,233.2 L1126.2,233.2 L1127.0,233.5 L1127.3,234.2 L1131.2,295.2 L1131.3,295.7 L1131.3,295.2 L1134.4,240.5 L1134.4,240.0 L1134.5,240.5 L1136.9,321.0 L1137.2,321.7 L1137.9,322.0 L1302.8,322.0 L1303.6,322.0 L1304.1,322.1 L1304.2,322.1 L1304.5,321.9 L1304.6,321.2 L1307.9,64.3 L1308.0,63.5 L1308.2,63.3 L1308.2,63.3 L1308.4,63.5 L1308.5,64.3 L1310.6,321.2 L1310.8,321.9 L1311.6,322.2 L1329.0,322.7" stroke="rgba(8,16,225,0.84)" stroke-width="3.1"/>
</g>
</svg>
<span class="t" id="date" style="left:20.10px;top:12.18px;font-size:24px;color:#151515;letter-spacing:0.307px;">So, 08.08.2021</span>
<span class="t" id="time" style="left:1352.70px;top:12.18px;font-size:24px;color:#151515;letter-spacing:0.659px;">14:18</span>
<span class="t" id="btn" style="left:646.26px;top:21.81px;font-size:32px;color:#ffffff;letter-spacing:0.562px;">PV-Laden</span>
<span class="t" id="t1" style="left:201.66px;top:87.61px;font-size:30px;font-weight:bold;color:#000;letter-spacing:-0.156px;">PV: 3,75 kW</span>
<span class="t" id="t2" style="left:379.10px;top:90.99px;font-size:26px;font-weight:bold;color:#000;letter-spacing:0.530px;">(9,59 kWh)</span>
<span class="t" id="t3" style="left:788.16px;top:87.61px;font-size:30px;font-weight:bold;color:#000;letter-spacing:-0.244px;">Netz Exp: 3,39 kW</span>
<span class="t" id="t4" style="left:1052.12px;top:90.99px;font-size:26px;font-weight:bold;color:#000;letter-spacing:0.373px;">(4,13 kWh I) (2,20 kWh E)</span>
<span class="t" id="t5" style="left:127.68px;top:137.50px;font-size:30px;font-weight:bold;color:#000;letter-spacing:-0.481px;">Hausverbrauch: 358 W</span>
<span class="t" id="t6" style="left:453.58px;top:140.89px;font-size:26px;font-weight:bold;color:#000;letter-spacing:0.479px;">(6,01 kWh)</span>
<span class="t" id="t7" style="left:880.24px;top:137.50px;font-size:30px;font-weight:bold;color:#000;letter-spacing:-0.372px;">Ladeleistung: 0 W</span>
<span class="t" id="t8" style="left:1139.14px;top:140.89px;font-size:26px;font-weight:bold;color:#000;letter-spacing:0.743px;">(5,51 kWh)</span>
<span class="t" id="f1" style="left:104.20px;top:732.35px;font-size:29px;font-weight:bold;color:#4b4b4b;letter-spacing:0.207px;">Ladepunkt</span>
<span class="t" id="f2" style="left:432.16px;top:732.35px;font-size:29px;font-weight:bold;color:#4b4b4b;letter-spacing:0.319px;">Ladeparameter</span>
<span class="t" id="f3" style="left:901.66px;top:732.35px;font-size:29px;font-weight:bold;color:#4b4b4b;letter-spacing:0.751px;">geladen</span>
<span class="t" id="f4" style="left:1291.58px;top:732.35px;font-size:29px;font-weight:bold;color:#4b4b4b;letter-spacing:0.000px;transform:scaleX(0.9339);transform-origin:0 0;">SoC</span>
<span class="t" id="d1" style="left:151.76px;top:777.45px;font-size:29px;font-weight:bold;color:#00691a;letter-spacing:0.000px;transform:scaleX(0.9194);transform-origin:0 0;">LP1</span>
<span class="t" id="d2" style="left:476.10px;top:777.45px;font-size:29px;color:#4b4b4b;letter-spacing:0.781px;">0 W / 0 A</span>
<span class="t" id="d3" style="left:846.60px;top:777.45px;font-size:29px;color:#4b4b4b;letter-spacing:0.377px;">0,1 kWh / 0,7 km</span>
<span class="t" id="d4" style="left:1269.18px;top:777.45px;font-size:29px;color:#4b4b4b;letter-spacing:-0.456px;">93 %</span>
<svg class="ref" width="23.4" height="23.4" viewBox="0 0 512 512"><path fill="#4b4b4b" d="M500.33 0h-47.41a12 12 0 0 0-12 12.57l4 82.76A247.42 247.42 0 0 0 256 8C119.34 8 7.9 119.53 8 256.19 8.1 393.07 119.1 504 256 504a247.1 247.1 0 0 0 166.18-63.91 12 12 0 0 0 .48-17.43l-34-34a12 12 0 0 0-16.38-.55A176 176 0 1 1 402.1 157.8l-101.53-4.87a12 12 0 0 0-12.57 12v47.41a12 12 0 0 0 12 12h200.33a12 12 0 0 0 12-12V12a12 12 0 0 0-12-12z"/></svg>
</body></html>
